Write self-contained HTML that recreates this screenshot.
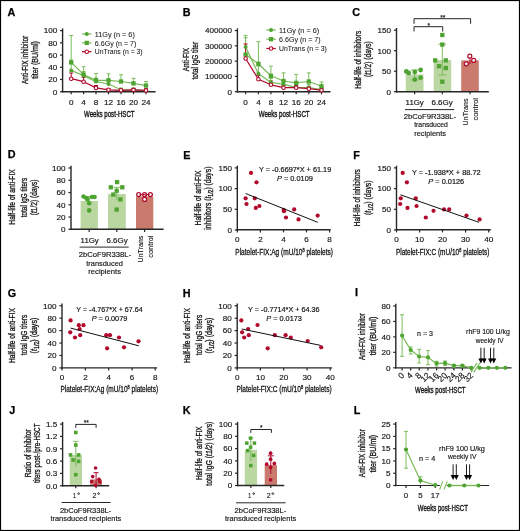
<!DOCTYPE html>
<html><head><meta charset="utf-8"><style>
html,body{margin:0;padding:0;background:#fff;}
svg{display:block;font-family:"Liberation Sans", sans-serif;will-change:transform;}
</style></head><body>
<svg width="520" height="531" viewBox="0 0 520 531">
<rect x="0.5" y="0.5" width="519" height="530" fill="#fff" stroke="#000" stroke-width="1.2"/>
<text x="7.6" y="16.4" font-size="10.8" text-anchor="start" font-weight="bold" fill="#000" stroke="#000" stroke-width="0.25">A</text>
<line x1="62.6" y1="28.4" x2="62.6" y2="92.4" stroke="#262626" stroke-width="1.4"/>
<line x1="60" y1="91.7" x2="62.6" y2="91.7" stroke="#262626" stroke-width="1.2"/>
<text x="57.2" y="94.5" font-size="8.1" text-anchor="end" font-weight="normal" fill="#141414" stroke="#141414" stroke-width="0.16">0</text>
<line x1="60" y1="79.48" x2="62.6" y2="79.48" stroke="#262626" stroke-width="1.2"/>
<text x="57.2" y="82.28" font-size="8.1" text-anchor="end" font-weight="normal" fill="#141414" stroke="#141414" stroke-width="0.16">20</text>
<line x1="60" y1="67.26" x2="62.6" y2="67.26" stroke="#262626" stroke-width="1.2"/>
<text x="57.2" y="70.06" font-size="8.1" text-anchor="end" font-weight="normal" fill="#141414" stroke="#141414" stroke-width="0.16">40</text>
<line x1="60" y1="55.04" x2="62.6" y2="55.04" stroke="#262626" stroke-width="1.2"/>
<text x="57.2" y="57.84" font-size="8.1" text-anchor="end" font-weight="normal" fill="#141414" stroke="#141414" stroke-width="0.16">60</text>
<line x1="60" y1="42.82" x2="62.6" y2="42.82" stroke="#262626" stroke-width="1.2"/>
<text x="57.2" y="45.62" font-size="8.1" text-anchor="end" font-weight="normal" fill="#141414" stroke="#141414" stroke-width="0.16">80</text>
<line x1="60" y1="30.6" x2="62.6" y2="30.6" stroke="#262626" stroke-width="1.2"/>
<text x="57.2" y="33.4" font-size="8.1" text-anchor="end" font-weight="normal" fill="#141414" stroke="#141414" stroke-width="0.16">100</text>
<line x1="61.9" y1="91.7" x2="155.6" y2="91.7" stroke="#262626" stroke-width="1.4"/>
<line x1="71.2" y1="91.7" x2="71.2" y2="94.3" stroke="#262626" stroke-width="1.2"/>
<text x="71.2" y="104.6" font-size="8.1" text-anchor="middle" font-weight="normal" fill="#141414" stroke="#141414" stroke-width="0.16">0</text>
<line x1="83.6" y1="91.7" x2="83.6" y2="94.3" stroke="#262626" stroke-width="1.2"/>
<text x="83.6" y="104.6" font-size="8.1" text-anchor="middle" font-weight="normal" fill="#141414" stroke="#141414" stroke-width="0.16">4</text>
<line x1="96" y1="91.7" x2="96" y2="94.3" stroke="#262626" stroke-width="1.2"/>
<text x="96" y="104.6" font-size="8.1" text-anchor="middle" font-weight="normal" fill="#141414" stroke="#141414" stroke-width="0.16">8</text>
<line x1="108.5" y1="91.7" x2="108.5" y2="94.3" stroke="#262626" stroke-width="1.2"/>
<text x="108.5" y="104.6" font-size="8.1" text-anchor="middle" font-weight="normal" fill="#141414" stroke="#141414" stroke-width="0.16">12</text>
<line x1="121" y1="91.7" x2="121" y2="94.3" stroke="#262626" stroke-width="1.2"/>
<text x="121" y="104.6" font-size="8.1" text-anchor="middle" font-weight="normal" fill="#141414" stroke="#141414" stroke-width="0.16">16</text>
<line x1="133.5" y1="91.7" x2="133.5" y2="94.3" stroke="#262626" stroke-width="1.2"/>
<text x="133.5" y="104.6" font-size="8.1" text-anchor="middle" font-weight="normal" fill="#141414" stroke="#141414" stroke-width="0.16">20</text>
<line x1="146" y1="91.7" x2="146" y2="94.3" stroke="#262626" stroke-width="1.2"/>
<text x="146" y="104.6" font-size="8.1" text-anchor="middle" font-weight="normal" fill="#141414" stroke="#141414" stroke-width="0.16">24</text>
<text x="109.3" y="117.2" font-size="9.4" text-anchor="middle" font-weight="normal" fill="#141414" stroke="#141414" stroke-width="0.4" textLength="50.6" lengthAdjust="spacingAndGlyphs">Weeks post-HSCT</text>
<g transform="translate(27.9,59.95) rotate(-90)">
<text x="0" y="0" font-size="9.3" text-anchor="middle" font-weight="normal" fill="#141414" stroke="#141414" stroke-width="0.32" textLength="48.3" lengthAdjust="spacingAndGlyphs">Anti-FIX inhibitor</text>
</g>
<g transform="translate(38,59.95) rotate(-90)">
<text x="0" y="0" font-size="9.3" text-anchor="middle" font-weight="normal" fill="#141414" stroke="#141414" stroke-width="0.32" textLength="37.7" lengthAdjust="spacingAndGlyphs">titer (BU/ml)</text>
</g>
<line x1="71.2" y1="62.4" x2="71.2" y2="35.5" stroke="#7dbd5d" stroke-width="1"/>
<line x1="69.2" y1="35.5" x2="73.2" y2="35.5" stroke="#7dbd5d" stroke-width="1"/>
<line x1="83.6" y1="74.5" x2="83.6" y2="66.7" stroke="#7dbd5d" stroke-width="1"/>
<line x1="81.6" y1="66.7" x2="85.6" y2="66.7" stroke="#7dbd5d" stroke-width="1"/>
<line x1="96" y1="80.3" x2="96" y2="73.5" stroke="#7dbd5d" stroke-width="1"/>
<line x1="94" y1="73.5" x2="98" y2="73.5" stroke="#7dbd5d" stroke-width="1"/>
<line x1="108.5" y1="80.3" x2="108.5" y2="73.8" stroke="#7dbd5d" stroke-width="1"/>
<line x1="106.5" y1="73.8" x2="110.5" y2="73.8" stroke="#7dbd5d" stroke-width="1"/>
<line x1="121" y1="81.5" x2="121" y2="74.8" stroke="#7dbd5d" stroke-width="1"/>
<line x1="119" y1="74.8" x2="123" y2="74.8" stroke="#7dbd5d" stroke-width="1"/>
<line x1="133.5" y1="83.4" x2="133.5" y2="78.3" stroke="#7dbd5d" stroke-width="1"/>
<line x1="131.5" y1="78.3" x2="135.5" y2="78.3" stroke="#7dbd5d" stroke-width="1"/>
<line x1="146" y1="85.6" x2="146" y2="81.5" stroke="#7dbd5d" stroke-width="1"/>
<line x1="144" y1="81.5" x2="148" y2="81.5" stroke="#7dbd5d" stroke-width="1"/>
<line x1="71.2" y1="70.4" x2="71.2" y2="60" stroke="#7dbd5d" stroke-width="1"/>
<line x1="69.2" y1="60" x2="73.2" y2="60" stroke="#7dbd5d" stroke-width="1"/>
<line x1="83.6" y1="75.6" x2="83.6" y2="71.5" stroke="#7dbd5d" stroke-width="1"/>
<line x1="81.6" y1="71.5" x2="85.6" y2="71.5" stroke="#7dbd5d" stroke-width="1"/>
<line x1="96" y1="81.6" x2="96" y2="78" stroke="#7dbd5d" stroke-width="1"/>
<line x1="94" y1="78" x2="98" y2="78" stroke="#7dbd5d" stroke-width="1"/>
<line x1="108.5" y1="84" x2="108.5" y2="80.5" stroke="#7dbd5d" stroke-width="1"/>
<line x1="106.5" y1="80.5" x2="110.5" y2="80.5" stroke="#7dbd5d" stroke-width="1"/>
<line x1="121" y1="89.8" x2="121" y2="88" stroke="#7dbd5d" stroke-width="1"/>
<line x1="119" y1="88" x2="123" y2="88" stroke="#7dbd5d" stroke-width="1"/>
<line x1="133.5" y1="89.8" x2="133.5" y2="88" stroke="#7dbd5d" stroke-width="1"/>
<line x1="131.5" y1="88" x2="135.5" y2="88" stroke="#7dbd5d" stroke-width="1"/>
<line x1="146" y1="90.6" x2="146" y2="89" stroke="#7dbd5d" stroke-width="1"/>
<line x1="144" y1="89" x2="148" y2="89" stroke="#7dbd5d" stroke-width="1"/>
<line x1="71.2" y1="78.7" x2="71.2" y2="73" stroke="#b0072b" stroke-width="1"/>
<line x1="69.2" y1="73" x2="73.2" y2="73" stroke="#b0072b" stroke-width="1"/>
<line x1="83.6" y1="81.7" x2="83.6" y2="77.3" stroke="#b0072b" stroke-width="1"/>
<line x1="81.6" y1="77.3" x2="85.6" y2="77.3" stroke="#b0072b" stroke-width="1"/>
<line x1="96" y1="87.9" x2="96" y2="85.5" stroke="#b0072b" stroke-width="1"/>
<line x1="94" y1="85.5" x2="98" y2="85.5" stroke="#b0072b" stroke-width="1"/>
<line x1="108.5" y1="89.8" x2="108.5" y2="88.5" stroke="#b0072b" stroke-width="1"/>
<line x1="106.5" y1="88.5" x2="110.5" y2="88.5" stroke="#b0072b" stroke-width="1"/>
<line x1="121" y1="90.3" x2="121" y2="89" stroke="#b0072b" stroke-width="1"/>
<line x1="119" y1="89" x2="123" y2="89" stroke="#b0072b" stroke-width="1"/>
<line x1="133.5" y1="89.9" x2="133.5" y2="88.5" stroke="#b0072b" stroke-width="1"/>
<line x1="131.5" y1="88.5" x2="135.5" y2="88.5" stroke="#b0072b" stroke-width="1"/>
<line x1="146" y1="90.4" x2="146" y2="89" stroke="#b0072b" stroke-width="1"/>
<line x1="144" y1="89" x2="148" y2="89" stroke="#b0072b" stroke-width="1"/>
<polyline points="71.2,62.4 83.6,74.5 96,80.3 108.5,80.3 121,81.5 133.5,83.4 146,85.6" fill="none" stroke="#78bb57" stroke-width="1.2" stroke-linejoin="round"/>
<polyline points="71.2,70.4 83.6,75.6 96,81.6 108.5,84 121,89.8 133.5,89.8 146,90.6" fill="none" stroke="#78bb57" stroke-width="1.2" stroke-linejoin="round"/>
<polyline points="71.2,78.7 83.6,81.7 96,87.9 108.5,89.8 121,90.3 133.5,89.9 146,90.4" fill="none" stroke="#b0072b" stroke-width="1.2" stroke-linejoin="round"/>
<rect x="69.05" y="60.25" width="4.3" height="4.3" fill="#4fa331"/>
<rect x="81.45" y="72.35" width="4.3" height="4.3" fill="#4fa331"/>
<rect x="93.85" y="78.15" width="4.3" height="4.3" fill="#4fa331"/>
<rect x="106.35" y="78.15" width="4.3" height="4.3" fill="#4fa331"/>
<rect x="118.85" y="79.35" width="4.3" height="4.3" fill="#4fa331"/>
<rect x="131.35" y="81.25" width="4.3" height="4.3" fill="#4fa331"/>
<rect x="143.85" y="83.45" width="4.3" height="4.3" fill="#4fa331"/>
<circle cx="71.2" cy="70.4" r="2" fill="#4fa331" stroke="none" stroke-width="0"/>
<circle cx="83.6" cy="75.6" r="2" fill="#4fa331" stroke="none" stroke-width="0"/>
<circle cx="96" cy="81.6" r="2" fill="#4fa331" stroke="none" stroke-width="0"/>
<circle cx="108.5" cy="84" r="2" fill="#4fa331" stroke="none" stroke-width="0"/>
<circle cx="121" cy="89.8" r="2" fill="#4fa331" stroke="none" stroke-width="0"/>
<circle cx="133.5" cy="89.8" r="2" fill="#4fa331" stroke="none" stroke-width="0"/>
<circle cx="146" cy="90.6" r="2" fill="#4fa331" stroke="none" stroke-width="0"/>
<circle cx="71.2" cy="78.7" r="1.75" fill="#fff" stroke="#b0072b" stroke-width="1.1"/>
<circle cx="83.6" cy="81.7" r="1.75" fill="#fff" stroke="#b0072b" stroke-width="1.1"/>
<circle cx="96" cy="87.9" r="1.75" fill="#fff" stroke="#b0072b" stroke-width="1.1"/>
<circle cx="108.5" cy="89.8" r="1.75" fill="#fff" stroke="#b0072b" stroke-width="1.1"/>
<circle cx="121" cy="90.3" r="1.75" fill="#fff" stroke="#b0072b" stroke-width="1.1"/>
<circle cx="133.5" cy="89.9" r="1.75" fill="#fff" stroke="#b0072b" stroke-width="1.1"/>
<circle cx="146" cy="90.4" r="1.75" fill="#fff" stroke="#b0072b" stroke-width="1.1"/>
<line x1="82" y1="34" x2="91.5" y2="34" stroke="#78bb57" stroke-width="1.2"/>
<circle cx="86.75" cy="34" r="2" fill="#4fa331" stroke="none" stroke-width="0"/>
<text x="94.8" y="36.6" font-size="7.6" text-anchor="start" font-weight="normal" fill="#141414" stroke="#141414" stroke-width="0.05" textLength="40" lengthAdjust="spacingAndGlyphs">11Gy (n = 6)</text>
<line x1="82" y1="42.9" x2="91.5" y2="42.9" stroke="#78bb57" stroke-width="1.2"/>
<rect x="84.6" y="40.75" width="4.3" height="4.3" fill="#4fa331"/>
<text x="94.8" y="45.5" font-size="7.6" text-anchor="start" font-weight="normal" fill="#141414" stroke="#141414" stroke-width="0.05" textLength="41.5" lengthAdjust="spacingAndGlyphs">6.6Gy (n = 7)</text>
<line x1="82" y1="51.7" x2="91.5" y2="51.7" stroke="#b0072b" stroke-width="1.2"/>
<circle cx="86.75" cy="51.7" r="1.75" fill="#fff" stroke="#b0072b" stroke-width="1.1"/>
<text x="94.8" y="54.3" font-size="7.6" text-anchor="start" font-weight="normal" fill="#141414" stroke="#141414" stroke-width="0.05" textLength="47.8" lengthAdjust="spacingAndGlyphs">UnTrans (n = 3)</text>
<text x="182.8" y="16.4" font-size="10.8" text-anchor="start" font-weight="bold" fill="#000" stroke="#000" stroke-width="0.25">B</text>
<line x1="237.4" y1="28.4" x2="237.4" y2="92.4" stroke="#262626" stroke-width="1.4"/>
<line x1="234.8" y1="91.7" x2="237.4" y2="91.7" stroke="#262626" stroke-width="1.2"/>
<text x="232" y="94.5" font-size="8.1" text-anchor="end" font-weight="normal" fill="#141414" stroke="#141414" stroke-width="0.16">0</text>
<line x1="234.8" y1="76.42" x2="237.4" y2="76.42" stroke="#262626" stroke-width="1.2"/>
<text x="232" y="79.22" font-size="8.1" text-anchor="end" font-weight="normal" fill="#141414" stroke="#141414" stroke-width="0.16">100000</text>
<line x1="234.8" y1="61.14" x2="237.4" y2="61.14" stroke="#262626" stroke-width="1.2"/>
<text x="232" y="63.94" font-size="8.1" text-anchor="end" font-weight="normal" fill="#141414" stroke="#141414" stroke-width="0.16">200000</text>
<line x1="234.8" y1="45.86" x2="237.4" y2="45.86" stroke="#262626" stroke-width="1.2"/>
<text x="232" y="48.66" font-size="8.1" text-anchor="end" font-weight="normal" fill="#141414" stroke="#141414" stroke-width="0.16">300000</text>
<line x1="234.8" y1="30.58" x2="237.4" y2="30.58" stroke="#262626" stroke-width="1.2"/>
<text x="232" y="33.38" font-size="8.1" text-anchor="end" font-weight="normal" fill="#141414" stroke="#141414" stroke-width="0.16">400000</text>
<line x1="236.7" y1="91.7" x2="330.5" y2="91.7" stroke="#262626" stroke-width="1.4"/>
<line x1="245.6" y1="91.7" x2="245.6" y2="94.3" stroke="#262626" stroke-width="1.2"/>
<text x="245.6" y="104.8" font-size="8.1" text-anchor="middle" font-weight="normal" fill="#141414" stroke="#141414" stroke-width="0.16">0</text>
<line x1="258.4" y1="91.7" x2="258.4" y2="94.3" stroke="#262626" stroke-width="1.2"/>
<text x="258.4" y="104.8" font-size="8.1" text-anchor="middle" font-weight="normal" fill="#141414" stroke="#141414" stroke-width="0.16">4</text>
<line x1="270.9" y1="91.7" x2="270.9" y2="94.3" stroke="#262626" stroke-width="1.2"/>
<text x="270.9" y="104.8" font-size="8.1" text-anchor="middle" font-weight="normal" fill="#141414" stroke="#141414" stroke-width="0.16">8</text>
<line x1="283.5" y1="91.7" x2="283.5" y2="94.3" stroke="#262626" stroke-width="1.2"/>
<text x="283.5" y="104.8" font-size="8.1" text-anchor="middle" font-weight="normal" fill="#141414" stroke="#141414" stroke-width="0.16">12</text>
<line x1="296.2" y1="91.7" x2="296.2" y2="94.3" stroke="#262626" stroke-width="1.2"/>
<text x="296.2" y="104.8" font-size="8.1" text-anchor="middle" font-weight="normal" fill="#141414" stroke="#141414" stroke-width="0.16">16</text>
<line x1="308.8" y1="91.7" x2="308.8" y2="94.3" stroke="#262626" stroke-width="1.2"/>
<text x="308.8" y="104.8" font-size="8.1" text-anchor="middle" font-weight="normal" fill="#141414" stroke="#141414" stroke-width="0.16">20</text>
<line x1="321.5" y1="91.7" x2="321.5" y2="94.3" stroke="#262626" stroke-width="1.2"/>
<text x="321.5" y="104.8" font-size="8.1" text-anchor="middle" font-weight="normal" fill="#141414" stroke="#141414" stroke-width="0.16">24</text>
<text x="284.15" y="117.2" font-size="9.4" text-anchor="middle" font-weight="normal" fill="#141414" stroke="#141414" stroke-width="0.4" textLength="50.9" lengthAdjust="spacingAndGlyphs">Weeks post-HSCT</text>
<g transform="translate(188.8,59.6) rotate(-90)">
<text x="0" y="0" font-size="9.3" text-anchor="middle" font-weight="normal" fill="#141414" stroke="#141414" stroke-width="0.32" textLength="23.4" lengthAdjust="spacingAndGlyphs">Anti-FIX</text>
</g>
<g transform="translate(198.4,60.75) rotate(-90)">
<text x="0" y="0" font-size="9.3" text-anchor="middle" font-weight="normal" fill="#141414" stroke="#141414" stroke-width="0.32" textLength="37.7" lengthAdjust="spacingAndGlyphs">total IgG titer</text>
</g>
<line x1="245.6" y1="54.6" x2="245.6" y2="35.4" stroke="#7dbd5d" stroke-width="1"/>
<line x1="243.6" y1="35.4" x2="247.6" y2="35.4" stroke="#7dbd5d" stroke-width="1"/>
<line x1="258.4" y1="63.8" x2="258.4" y2="41.7" stroke="#7dbd5d" stroke-width="1"/>
<line x1="256.4" y1="41.7" x2="260.4" y2="41.7" stroke="#7dbd5d" stroke-width="1"/>
<line x1="270.9" y1="75.8" x2="270.9" y2="66.2" stroke="#7dbd5d" stroke-width="1"/>
<line x1="268.9" y1="66.2" x2="272.9" y2="66.2" stroke="#7dbd5d" stroke-width="1"/>
<line x1="283.5" y1="81" x2="283.5" y2="72.9" stroke="#7dbd5d" stroke-width="1"/>
<line x1="281.5" y1="72.9" x2="285.5" y2="72.9" stroke="#7dbd5d" stroke-width="1"/>
<line x1="296.2" y1="82.9" x2="296.2" y2="74.4" stroke="#7dbd5d" stroke-width="1"/>
<line x1="294.2" y1="74.4" x2="298.2" y2="74.4" stroke="#7dbd5d" stroke-width="1"/>
<line x1="308.8" y1="81.5" x2="308.8" y2="72.9" stroke="#7dbd5d" stroke-width="1"/>
<line x1="306.8" y1="72.9" x2="310.8" y2="72.9" stroke="#7dbd5d" stroke-width="1"/>
<line x1="321.5" y1="86.3" x2="321.5" y2="82" stroke="#7dbd5d" stroke-width="1"/>
<line x1="319.5" y1="82" x2="323.5" y2="82" stroke="#7dbd5d" stroke-width="1"/>
<line x1="245.6" y1="47" x2="245.6" y2="37.7" stroke="#7dbd5d" stroke-width="1"/>
<line x1="243.6" y1="37.7" x2="247.6" y2="37.7" stroke="#7dbd5d" stroke-width="1"/>
<line x1="258.4" y1="73.8" x2="258.4" y2="66" stroke="#7dbd5d" stroke-width="1"/>
<line x1="256.4" y1="66" x2="260.4" y2="66" stroke="#7dbd5d" stroke-width="1"/>
<line x1="270.9" y1="82.3" x2="270.9" y2="78.5" stroke="#7dbd5d" stroke-width="1"/>
<line x1="268.9" y1="78.5" x2="272.9" y2="78.5" stroke="#7dbd5d" stroke-width="1"/>
<line x1="283.5" y1="84.3" x2="283.5" y2="80.5" stroke="#7dbd5d" stroke-width="1"/>
<line x1="281.5" y1="80.5" x2="285.5" y2="80.5" stroke="#7dbd5d" stroke-width="1"/>
<line x1="296.2" y1="87.3" x2="296.2" y2="84" stroke="#7dbd5d" stroke-width="1"/>
<line x1="294.2" y1="84" x2="298.2" y2="84" stroke="#7dbd5d" stroke-width="1"/>
<line x1="308.8" y1="87.5" x2="308.8" y2="84.5" stroke="#7dbd5d" stroke-width="1"/>
<line x1="306.8" y1="84.5" x2="310.8" y2="84.5" stroke="#7dbd5d" stroke-width="1"/>
<line x1="321.5" y1="89.5" x2="321.5" y2="87.5" stroke="#7dbd5d" stroke-width="1"/>
<line x1="319.5" y1="87.5" x2="323.5" y2="87.5" stroke="#7dbd5d" stroke-width="1"/>
<line x1="245.6" y1="58.5" x2="245.6" y2="44" stroke="#b0072b" stroke-width="1"/>
<line x1="243.6" y1="44" x2="247.6" y2="44" stroke="#b0072b" stroke-width="1"/>
<line x1="258.4" y1="79.2" x2="258.4" y2="75.5" stroke="#b0072b" stroke-width="1"/>
<line x1="256.4" y1="75.5" x2="260.4" y2="75.5" stroke="#b0072b" stroke-width="1"/>
<line x1="270.9" y1="84.8" x2="270.9" y2="81" stroke="#b0072b" stroke-width="1"/>
<line x1="268.9" y1="81" x2="272.9" y2="81" stroke="#b0072b" stroke-width="1"/>
<line x1="283.5" y1="87.7" x2="283.5" y2="85.5" stroke="#b0072b" stroke-width="1"/>
<line x1="281.5" y1="85.5" x2="285.5" y2="85.5" stroke="#b0072b" stroke-width="1"/>
<line x1="296.2" y1="87.7" x2="296.2" y2="85.5" stroke="#b0072b" stroke-width="1"/>
<line x1="294.2" y1="85.5" x2="298.2" y2="85.5" stroke="#b0072b" stroke-width="1"/>
<line x1="308.8" y1="88.7" x2="308.8" y2="86.5" stroke="#b0072b" stroke-width="1"/>
<line x1="306.8" y1="86.5" x2="310.8" y2="86.5" stroke="#b0072b" stroke-width="1"/>
<line x1="321.5" y1="90.2" x2="321.5" y2="88.5" stroke="#b0072b" stroke-width="1"/>
<line x1="319.5" y1="88.5" x2="323.5" y2="88.5" stroke="#b0072b" stroke-width="1"/>
<polyline points="245.6,54.6 258.4,63.8 270.9,75.8 283.5,81 296.2,82.9 308.8,81.5 321.5,86.3" fill="none" stroke="#78bb57" stroke-width="1.2" stroke-linejoin="round"/>
<polyline points="245.6,47 258.4,73.8 270.9,82.3 283.5,84.3 296.2,87.3 308.8,87.5 321.5,89.5" fill="none" stroke="#78bb57" stroke-width="1.2" stroke-linejoin="round"/>
<polyline points="245.6,58.5 258.4,79.2 270.9,84.8 283.5,87.7 296.2,87.7 308.8,88.7 321.5,90.2" fill="none" stroke="#b0072b" stroke-width="1.2" stroke-linejoin="round"/>
<rect x="243.45" y="52.45" width="4.3" height="4.3" fill="#4fa331"/>
<rect x="256.25" y="61.65" width="4.3" height="4.3" fill="#4fa331"/>
<rect x="268.75" y="73.65" width="4.3" height="4.3" fill="#4fa331"/>
<rect x="281.35" y="78.85" width="4.3" height="4.3" fill="#4fa331"/>
<rect x="294.05" y="80.75" width="4.3" height="4.3" fill="#4fa331"/>
<rect x="306.65" y="79.35" width="4.3" height="4.3" fill="#4fa331"/>
<rect x="319.35" y="84.15" width="4.3" height="4.3" fill="#4fa331"/>
<circle cx="245.6" cy="47" r="2" fill="#4fa331" stroke="none" stroke-width="0"/>
<circle cx="258.4" cy="73.8" r="2" fill="#4fa331" stroke="none" stroke-width="0"/>
<circle cx="270.9" cy="82.3" r="2" fill="#4fa331" stroke="none" stroke-width="0"/>
<circle cx="283.5" cy="84.3" r="2" fill="#4fa331" stroke="none" stroke-width="0"/>
<circle cx="296.2" cy="87.3" r="2" fill="#4fa331" stroke="none" stroke-width="0"/>
<circle cx="308.8" cy="87.5" r="2" fill="#4fa331" stroke="none" stroke-width="0"/>
<circle cx="321.5" cy="89.5" r="2" fill="#4fa331" stroke="none" stroke-width="0"/>
<circle cx="245.6" cy="58.5" r="1.75" fill="#fff" stroke="#b0072b" stroke-width="1.1"/>
<circle cx="258.4" cy="79.2" r="1.75" fill="#fff" stroke="#b0072b" stroke-width="1.1"/>
<circle cx="270.9" cy="84.8" r="1.75" fill="#fff" stroke="#b0072b" stroke-width="1.1"/>
<circle cx="283.5" cy="87.7" r="1.75" fill="#fff" stroke="#b0072b" stroke-width="1.1"/>
<circle cx="296.2" cy="87.7" r="1.75" fill="#fff" stroke="#b0072b" stroke-width="1.1"/>
<circle cx="308.8" cy="88.7" r="1.75" fill="#fff" stroke="#b0072b" stroke-width="1.1"/>
<circle cx="321.5" cy="90.2" r="1.75" fill="#fff" stroke="#b0072b" stroke-width="1.1"/>
<line x1="266.3" y1="30" x2="275.8" y2="30" stroke="#78bb57" stroke-width="1.2"/>
<circle cx="271.05" cy="30" r="2" fill="#4fa331" stroke="none" stroke-width="0"/>
<text x="279.1" y="32.6" font-size="7.6" text-anchor="start" font-weight="normal" fill="#141414" stroke="#141414" stroke-width="0.05" textLength="40" lengthAdjust="spacingAndGlyphs">11Gy (n = 6)</text>
<line x1="266.3" y1="39.2" x2="275.8" y2="39.2" stroke="#78bb57" stroke-width="1.2"/>
<rect x="268.9" y="37.05" width="4.3" height="4.3" fill="#4fa331"/>
<text x="279.1" y="41.8" font-size="7.6" text-anchor="start" font-weight="normal" fill="#141414" stroke="#141414" stroke-width="0.05" textLength="41.5" lengthAdjust="spacingAndGlyphs">6.6Gy (n = 7)</text>
<line x1="266.3" y1="48.5" x2="275.8" y2="48.5" stroke="#b0072b" stroke-width="1.2"/>
<circle cx="271.05" cy="48.5" r="1.75" fill="#fff" stroke="#b0072b" stroke-width="1.1"/>
<text x="279.1" y="51.1" font-size="7.6" text-anchor="start" font-weight="normal" fill="#141414" stroke="#141414" stroke-width="0.05" textLength="47.8" lengthAdjust="spacingAndGlyphs">UnTrans (n = 3)</text>
<text x="352.2" y="16.4" font-size="10.8" text-anchor="start" font-weight="bold" fill="#000" stroke="#000" stroke-width="0.25">C</text>
<line x1="396.5" y1="28" x2="396.5" y2="92.4" stroke="#262626" stroke-width="1.4"/>
<line x1="393.9" y1="91.7" x2="396.5" y2="91.7" stroke="#262626" stroke-width="1.2"/>
<text x="391.1" y="94.5" font-size="8.1" text-anchor="end" font-weight="normal" fill="#141414" stroke="#141414" stroke-width="0.16">0</text>
<line x1="393.9" y1="71.2" x2="396.5" y2="71.2" stroke="#262626" stroke-width="1.2"/>
<text x="391.1" y="74" font-size="8.1" text-anchor="end" font-weight="normal" fill="#141414" stroke="#141414" stroke-width="0.16">50</text>
<line x1="393.9" y1="50.7" x2="396.5" y2="50.7" stroke="#262626" stroke-width="1.2"/>
<text x="391.1" y="53.5" font-size="8.1" text-anchor="end" font-weight="normal" fill="#141414" stroke="#141414" stroke-width="0.16">100</text>
<line x1="393.9" y1="30.2" x2="396.5" y2="30.2" stroke="#262626" stroke-width="1.2"/>
<text x="391.1" y="33" font-size="8.1" text-anchor="end" font-weight="normal" fill="#141414" stroke="#141414" stroke-width="0.16">150</text>
<rect x="405.8" y="74.4" width="17.7" height="17.3" fill="#bad7a1"/>
<rect x="433.7" y="60" width="17.5" height="31.7" fill="#bad7a1"/>
<rect x="461.2" y="60.4" width="17.6" height="31.3" fill="#c97a6d"/>
<line x1="395.8" y1="91.7" x2="488.8" y2="91.7" stroke="#262626" stroke-width="1.4"/>
<line x1="414.6" y1="91.7" x2="414.6" y2="94.3" stroke="#262626" stroke-width="1.2"/>
<line x1="442.3" y1="91.7" x2="442.3" y2="94.3" stroke="#262626" stroke-width="1.2"/>
<line x1="470" y1="91.7" x2="470" y2="94.3" stroke="#262626" stroke-width="1.2"/>
<line x1="414.6" y1="70" x2="414.6" y2="80" stroke="#7dbd5d" stroke-width="1"/>
<line x1="410.8" y1="70" x2="418.4" y2="70" stroke="#7dbd5d" stroke-width="1"/>
<line x1="410.8" y1="80" x2="418.4" y2="80" stroke="#7dbd5d" stroke-width="1"/>
<line x1="442.3" y1="44.2" x2="442.3" y2="75" stroke="#7dbd5d" stroke-width="1"/>
<line x1="438.4" y1="44.2" x2="446.2" y2="44.2" stroke="#7dbd5d" stroke-width="1"/>
<line x1="438.4" y1="75" x2="446.2" y2="75" stroke="#7dbd5d" stroke-width="1"/>
<line x1="470" y1="56" x2="470" y2="64" stroke="#b0072b" stroke-width="1"/>
<line x1="468" y1="56" x2="472" y2="56" stroke="#b0072b" stroke-width="1"/>
<circle cx="406.3" cy="71.5" r="2.4" fill="#4fa331" stroke="none" stroke-width="0"/>
<circle cx="408.7" cy="73" r="2.4" fill="#4fa331" stroke="none" stroke-width="0"/>
<circle cx="414.8" cy="72" r="2.4" fill="#4fa331" stroke="none" stroke-width="0"/>
<circle cx="420.6" cy="70" r="2.4" fill="#4fa331" stroke="none" stroke-width="0"/>
<circle cx="420.6" cy="77.7" r="2.4" fill="#4fa331" stroke="none" stroke-width="0"/>
<circle cx="414.8" cy="79.6" r="2.4" fill="#4fa331" stroke="none" stroke-width="0"/>
<rect x="440.15" y="32.85" width="4.3" height="4.3" fill="#4fa331"/>
<rect x="440.15" y="42.45" width="4.3" height="4.3" fill="#4fa331"/>
<rect x="433.05" y="58.25" width="4.3" height="4.3" fill="#4fa331"/>
<rect x="443.65" y="58.25" width="4.3" height="4.3" fill="#4fa331"/>
<rect x="436.85" y="64.05" width="4.3" height="4.3" fill="#4fa331"/>
<rect x="443.65" y="65.85" width="4.3" height="4.3" fill="#4fa331"/>
<rect x="440.15" y="79.55" width="4.3" height="4.3" fill="#4fa331"/>
<circle cx="469.8" cy="56.2" r="2" fill="#fff" stroke="#b0072b" stroke-width="1.2"/>
<circle cx="473.7" cy="60.4" r="2" fill="#fff" stroke="#b0072b" stroke-width="1.2"/>
<circle cx="466.3" cy="63.8" r="2" fill="#fff" stroke="#b0072b" stroke-width="1.2"/>
<polyline points="414,23.8 414,18.7 470.6,18.7 470.6,23.8" fill="none" stroke="#262626" stroke-width="1" stroke-linejoin="round"/>
<polyline points="414,31.5 414,26.7 442.7,26.7 442.7,31.5" fill="none" stroke="#262626" stroke-width="1" stroke-linejoin="round"/>
<text x="442.7" y="20.3" font-size="6.5" text-anchor="middle" font-weight="normal" fill="#141414" stroke="#141414" stroke-width="0.16">**</text>
<text x="428.8" y="28.3" font-size="6.5" text-anchor="middle" font-weight="normal" fill="#141414" stroke="#141414" stroke-width="0.16">*</text>
<g transform="translate(360.8,59.8) rotate(-90)">
<text x="0" y="0" font-size="9.3" text-anchor="middle" font-weight="normal" fill="#141414" stroke="#141414" stroke-width="0.32" textLength="58" lengthAdjust="spacingAndGlyphs">Half-life of inhibitors</text>
</g>
<g transform="translate(371.4,59.15) rotate(-90)">
<text x="0" y="0" font-size="9.3" text-anchor="middle" font-weight="normal" fill="#141414" stroke="#141414" stroke-width="0.32" textLength="35.7" lengthAdjust="spacingAndGlyphs">(<tspan font-style="italic">t</tspan>1/2) (days)</text>
</g>
<text x="414.7" y="104.8" font-size="7.8" text-anchor="middle" font-weight="normal" fill="#141414" stroke="#141414" stroke-width="0.16" textLength="18.2" lengthAdjust="spacingAndGlyphs">11Gy</text>
<text x="442.1" y="104.8" font-size="7.8" text-anchor="middle" font-weight="normal" fill="#141414" stroke="#141414" stroke-width="0.16" textLength="21.2" lengthAdjust="spacingAndGlyphs">6.6Gy</text>
<line x1="405" y1="109.6" x2="454.2" y2="109.6" stroke="#262626" stroke-width="1"/>
<text x="429.95" y="118.7" font-size="7.8" text-anchor="middle" font-weight="normal" fill="#141414" stroke="#141414" stroke-width="0.16" textLength="52.5" lengthAdjust="spacingAndGlyphs">2bCoF9R338L-</text>
<text x="431.05" y="127.4" font-size="7.8" text-anchor="middle" font-weight="normal" fill="#141414" stroke="#141414" stroke-width="0.16" textLength="33.7" lengthAdjust="spacingAndGlyphs">transduced</text>
<text x="430.1" y="135.8" font-size="7.8" text-anchor="middle" font-weight="normal" fill="#141414" stroke="#141414" stroke-width="0.16" textLength="31.8" lengthAdjust="spacingAndGlyphs">recipients</text>
<g transform="translate(468.4,111.95) rotate(-90)">
<text x="0" y="0" font-size="7.8" text-anchor="middle" font-weight="normal" fill="#141414" stroke="#141414" stroke-width="0.12" textLength="26.9" lengthAdjust="spacingAndGlyphs">UnTrans</text>
</g>
<g transform="translate(478.1,109.3) rotate(-90)">
<text x="0" y="0" font-size="7.8" text-anchor="middle" font-weight="normal" fill="#141414" stroke="#141414" stroke-width="0.12" textLength="22.6" lengthAdjust="spacingAndGlyphs">control</text>
</g>
<text x="7.8" y="158.4" font-size="10.8" text-anchor="start" font-weight="bold" fill="#000" stroke="#000" stroke-width="0.25">D</text>
<line x1="71" y1="165.8" x2="71" y2="230" stroke="#262626" stroke-width="1.4"/>
<line x1="68.4" y1="229.3" x2="71" y2="229.3" stroke="#262626" stroke-width="1.2"/>
<text x="65.6" y="232.1" font-size="8.1" text-anchor="end" font-weight="normal" fill="#141414" stroke="#141414" stroke-width="0.16">0</text>
<line x1="68.4" y1="217.04" x2="71" y2="217.04" stroke="#262626" stroke-width="1.2"/>
<text x="65.6" y="219.84" font-size="8.1" text-anchor="end" font-weight="normal" fill="#141414" stroke="#141414" stroke-width="0.16">20</text>
<line x1="68.4" y1="204.78" x2="71" y2="204.78" stroke="#262626" stroke-width="1.2"/>
<text x="65.6" y="207.58" font-size="8.1" text-anchor="end" font-weight="normal" fill="#141414" stroke="#141414" stroke-width="0.16">40</text>
<line x1="68.4" y1="192.52" x2="71" y2="192.52" stroke="#262626" stroke-width="1.2"/>
<text x="65.6" y="195.32" font-size="8.1" text-anchor="end" font-weight="normal" fill="#141414" stroke="#141414" stroke-width="0.16">60</text>
<line x1="68.4" y1="180.26" x2="71" y2="180.26" stroke="#262626" stroke-width="1.2"/>
<text x="65.6" y="183.06" font-size="8.1" text-anchor="end" font-weight="normal" fill="#141414" stroke="#141414" stroke-width="0.16">80</text>
<line x1="68.4" y1="168" x2="71" y2="168" stroke="#262626" stroke-width="1.2"/>
<text x="65.6" y="170.8" font-size="8.1" text-anchor="end" font-weight="normal" fill="#141414" stroke="#141414" stroke-width="0.16">100</text>
<rect x="80.6" y="201" width="17.3" height="28.3" fill="#bad7a1"/>
<rect x="108" y="194" width="17.8" height="35.3" fill="#bad7a1"/>
<rect x="136" y="196.5" width="17.3" height="32.8" fill="#c97a6d"/>
<line x1="70.3" y1="229.3" x2="163.6" y2="229.3" stroke="#262626" stroke-width="1.4"/>
<line x1="89.2" y1="229.3" x2="89.2" y2="231.9" stroke="#262626" stroke-width="1.2"/>
<line x1="116.8" y1="229.3" x2="116.8" y2="231.9" stroke="#262626" stroke-width="1.2"/>
<line x1="144.6" y1="229.3" x2="144.6" y2="231.9" stroke="#262626" stroke-width="1.2"/>
<line x1="116.8" y1="187.3" x2="116.8" y2="200" stroke="#7dbd5d" stroke-width="1"/>
<line x1="113.4" y1="187.3" x2="120.2" y2="187.3" stroke="#7dbd5d" stroke-width="1"/>
<line x1="89.2" y1="196.5" x2="89.2" y2="205" stroke="#7dbd5d" stroke-width="1"/>
<line x1="86.2" y1="196.5" x2="92.2" y2="196.5" stroke="#7dbd5d" stroke-width="1"/>
<circle cx="83.5" cy="196.5" r="2.3" fill="#4fa331" stroke="none" stroke-width="0"/>
<circle cx="86.3" cy="198" r="2.3" fill="#4fa331" stroke="none" stroke-width="0"/>
<circle cx="89.2" cy="203.3" r="2.3" fill="#4fa331" stroke="none" stroke-width="0"/>
<circle cx="89.2" cy="210.4" r="2.3" fill="#4fa331" stroke="none" stroke-width="0"/>
<circle cx="92" cy="197" r="2.3" fill="#4fa331" stroke="none" stroke-width="0"/>
<circle cx="94.6" cy="197" r="2.3" fill="#4fa331" stroke="none" stroke-width="0"/>
<circle cx="87.3" cy="199.4" r="2.3" fill="#4fa331" stroke="none" stroke-width="0"/>
<rect x="114.95" y="179.95" width="4.3" height="4.3" fill="#4fa331"/>
<rect x="108.65" y="185.15" width="4.3" height="4.3" fill="#4fa331"/>
<rect x="120.15" y="185.15" width="4.3" height="4.3" fill="#4fa331"/>
<rect x="114.55" y="188.65" width="4.3" height="4.3" fill="#4fa331"/>
<rect x="111.15" y="192.45" width="4.3" height="4.3" fill="#4fa331"/>
<rect x="118.25" y="197.25" width="4.3" height="4.3" fill="#4fa331"/>
<rect x="114.55" y="207.45" width="4.3" height="4.3" fill="#4fa331"/>
<circle cx="138.7" cy="194.6" r="2" fill="#fff" stroke="#b0072b" stroke-width="1.2"/>
<circle cx="144.6" cy="194.6" r="2" fill="#fff" stroke="#b0072b" stroke-width="1.2"/>
<circle cx="150.4" cy="194.6" r="2" fill="#fff" stroke="#b0072b" stroke-width="1.2"/>
<circle cx="144.6" cy="199.4" r="2" fill="#fff" stroke="#b0072b" stroke-width="1.2"/>
<line x1="139.5" y1="194.6" x2="149.6" y2="194.6" stroke="#b0072b" stroke-width="0.9"/>
<g transform="translate(15.2,196.95) rotate(-90)">
<text x="0" y="0" font-size="9.3" text-anchor="middle" font-weight="normal" fill="#141414" stroke="#141414" stroke-width="0.32" textLength="55.5" lengthAdjust="spacingAndGlyphs">Half-life of anti-FIX</text>
</g>
<g transform="translate(26.5,197.45) rotate(-90)">
<text x="0" y="0" font-size="9.3" text-anchor="middle" font-weight="normal" fill="#141414" stroke="#141414" stroke-width="0.32" textLength="39.5" lengthAdjust="spacingAndGlyphs">total IgG titers</text>
</g>
<g transform="translate(36.9,197.4) rotate(-90)">
<text x="0" y="0" font-size="9.3" text-anchor="middle" font-weight="normal" fill="#141414" stroke="#141414" stroke-width="0.32" textLength="35.8" lengthAdjust="spacingAndGlyphs">(<tspan font-style="italic">t</tspan>1/2) (days)</text>
</g>
<text x="89.7" y="242.7" font-size="7.8" text-anchor="middle" font-weight="normal" fill="#141414" stroke="#141414" stroke-width="0.16" textLength="18.2" lengthAdjust="spacingAndGlyphs">11Gy</text>
<text x="117.1" y="242.7" font-size="7.8" text-anchor="middle" font-weight="normal" fill="#141414" stroke="#141414" stroke-width="0.16" textLength="21.2" lengthAdjust="spacingAndGlyphs">6.6Gy</text>
<line x1="79.6" y1="247.1" x2="128.7" y2="247.1" stroke="#262626" stroke-width="1"/>
<text x="104.95" y="256.7" font-size="7.8" text-anchor="middle" font-weight="normal" fill="#141414" stroke="#141414" stroke-width="0.16" textLength="52.5" lengthAdjust="spacingAndGlyphs">2bCoF9R338L-</text>
<text x="104.6" y="265.5" font-size="7.8" text-anchor="middle" font-weight="normal" fill="#141414" stroke="#141414" stroke-width="0.16" textLength="36.6" lengthAdjust="spacingAndGlyphs">transduced</text>
<text x="104.65" y="273.8" font-size="7.8" text-anchor="middle" font-weight="normal" fill="#141414" stroke="#141414" stroke-width="0.16" textLength="32.7" lengthAdjust="spacingAndGlyphs">recipients</text>
<g transform="translate(143,249.05) rotate(-90)">
<text x="0" y="0" font-size="7.8" text-anchor="middle" font-weight="normal" fill="#141414" stroke="#141414" stroke-width="0.12" textLength="26.9" lengthAdjust="spacingAndGlyphs">UnTrans</text>
</g>
<g transform="translate(153.2,246.65) rotate(-90)">
<text x="0" y="0" font-size="7.8" text-anchor="middle" font-weight="normal" fill="#141414" stroke="#141414" stroke-width="0.12" textLength="22.1" lengthAdjust="spacingAndGlyphs">control</text>
</g>
<text x="183.2" y="158.5" font-size="10.8" text-anchor="start" font-weight="bold" fill="#000" stroke="#000" stroke-width="0.25">E</text>
<line x1="237.3" y1="165.7" x2="237.3" y2="230.5" stroke="#262626" stroke-width="1.4"/>
<line x1="234.7" y1="230" x2="237.3" y2="230" stroke="#262626" stroke-width="1.2"/>
<text x="231.9" y="232.8" font-size="8.1" text-anchor="end" font-weight="normal" fill="#141414" stroke="#141414" stroke-width="0.16">0</text>
<line x1="234.7" y1="209.3" x2="237.3" y2="209.3" stroke="#262626" stroke-width="1.2"/>
<text x="231.9" y="212.1" font-size="8.1" text-anchor="end" font-weight="normal" fill="#141414" stroke="#141414" stroke-width="0.16">50</text>
<line x1="234.7" y1="188.6" x2="237.3" y2="188.6" stroke="#262626" stroke-width="1.2"/>
<text x="231.9" y="191.4" font-size="8.1" text-anchor="end" font-weight="normal" fill="#141414" stroke="#141414" stroke-width="0.16">100</text>
<line x1="234.7" y1="167.9" x2="237.3" y2="167.9" stroke="#262626" stroke-width="1.2"/>
<text x="231.9" y="170.7" font-size="8.1" text-anchor="end" font-weight="normal" fill="#141414" stroke="#141414" stroke-width="0.16">150</text>
<line x1="236.6" y1="229.8" x2="330.6" y2="229.8" stroke="#262626" stroke-width="1.4"/>
<line x1="237.3" y1="229.8" x2="237.3" y2="232.4" stroke="#262626" stroke-width="1.2"/>
<text x="237.3" y="242.2" font-size="8.1" text-anchor="middle" font-weight="normal" fill="#141414" stroke="#141414" stroke-width="0.16">0</text>
<line x1="260.4" y1="229.8" x2="260.4" y2="232.4" stroke="#262626" stroke-width="1.2"/>
<text x="260.4" y="242.2" font-size="8.1" text-anchor="middle" font-weight="normal" fill="#141414" stroke="#141414" stroke-width="0.16">2</text>
<line x1="283.5" y1="229.8" x2="283.5" y2="232.4" stroke="#262626" stroke-width="1.2"/>
<text x="283.5" y="242.2" font-size="8.1" text-anchor="middle" font-weight="normal" fill="#141414" stroke="#141414" stroke-width="0.16">4</text>
<line x1="306.5" y1="229.8" x2="306.5" y2="232.4" stroke="#262626" stroke-width="1.2"/>
<text x="306.5" y="242.2" font-size="8.1" text-anchor="middle" font-weight="normal" fill="#141414" stroke="#141414" stroke-width="0.16">6</text>
<line x1="329.6" y1="229.8" x2="329.6" y2="232.4" stroke="#262626" stroke-width="1.2"/>
<text x="329.6" y="242.2" font-size="8.1" text-anchor="middle" font-weight="normal" fill="#141414" stroke="#141414" stroke-width="0.16">8</text>
<circle cx="251" cy="172.9" r="2.1" fill="#b0072b" stroke="none" stroke-width="0"/>
<circle cx="256.5" cy="182.3" r="2.1" fill="#b0072b" stroke="none" stroke-width="0"/>
<circle cx="245.6" cy="198.3" r="2.1" fill="#b0072b" stroke="none" stroke-width="0"/>
<circle cx="254.8" cy="198.3" r="2.1" fill="#b0072b" stroke="none" stroke-width="0"/>
<circle cx="246.5" cy="204" r="2.1" fill="#b0072b" stroke="none" stroke-width="0"/>
<circle cx="255.8" cy="207.9" r="2.1" fill="#b0072b" stroke="none" stroke-width="0"/>
<circle cx="259.4" cy="206" r="2.1" fill="#b0072b" stroke="none" stroke-width="0"/>
<circle cx="283.7" cy="209.8" r="2.1" fill="#b0072b" stroke="none" stroke-width="0"/>
<circle cx="284" cy="211.2" r="2.1" fill="#b0072b" stroke="none" stroke-width="0"/>
<circle cx="294.2" cy="209.4" r="2.1" fill="#b0072b" stroke="none" stroke-width="0"/>
<circle cx="286" cy="217.5" r="2.1" fill="#b0072b" stroke="none" stroke-width="0"/>
<circle cx="298.5" cy="219.4" r="2.1" fill="#b0072b" stroke="none" stroke-width="0"/>
<circle cx="317.7" cy="215.6" r="2.1" fill="#b0072b" stroke="none" stroke-width="0"/>
<line x1="245.6" y1="193.5" x2="317.7" y2="222.3" stroke="#111" stroke-width="1"/>
<text x="295.1" y="171.7" font-size="8" text-anchor="middle" font-weight="normal" fill="#141414" stroke="#141414" stroke-width="0.2" textLength="72.2" lengthAdjust="spacingAndGlyphs">Y = -0.6697*X + 61.19</text>
<text x="294.9" y="181" font-size="8" text-anchor="middle" font-weight="normal" fill="#141414" stroke="#141414" stroke-width="0.2" textLength="36" lengthAdjust="spacingAndGlyphs"><tspan font-style="italic">P</tspan> = 0.0109</text>
<text x="284.15" y="254.6" font-size="9.2" text-anchor="middle" font-weight="normal" fill="#141414" stroke="#141414" stroke-width="0.3" textLength="97.7" lengthAdjust="spacingAndGlyphs">Platelet-FIX:Ag (mU/10<tspan font-size="5.5" dy="-3">8</tspan><tspan dy="3"> platelets)</tspan></text>
<g transform="translate(200.8,198) rotate(-90)">
<text x="0" y="0" font-size="9.3" text-anchor="middle" font-weight="normal" fill="#141414" stroke="#141414" stroke-width="0.32" textLength="54.8" lengthAdjust="spacingAndGlyphs">Half-life of anti-FIX</text>
</g>
<g transform="translate(211.2,198.2) rotate(-90)">
<text x="0" y="0" font-size="9.3" text-anchor="middle" font-weight="normal" fill="#141414" stroke="#141414" stroke-width="0.32" textLength="63.2" lengthAdjust="spacingAndGlyphs">inhibitors (<tspan font-style="italic">t</tspan><tspan font-size="7" dy="1.5">1/2</tspan><tspan dy="-1.5">) (days)</tspan></text>
</g>
<text x="353.2" y="158.7" font-size="10.8" text-anchor="start" font-weight="bold" fill="#000" stroke="#000" stroke-width="0.25">F</text>
<line x1="396.5" y1="165.7" x2="396.5" y2="230.5" stroke="#262626" stroke-width="1.4"/>
<line x1="393.9" y1="230" x2="396.5" y2="230" stroke="#262626" stroke-width="1.2"/>
<text x="391.1" y="232.8" font-size="8.1" text-anchor="end" font-weight="normal" fill="#141414" stroke="#141414" stroke-width="0.16">0</text>
<line x1="393.9" y1="209.3" x2="396.5" y2="209.3" stroke="#262626" stroke-width="1.2"/>
<text x="391.1" y="212.1" font-size="8.1" text-anchor="end" font-weight="normal" fill="#141414" stroke="#141414" stroke-width="0.16">50</text>
<line x1="393.9" y1="188.6" x2="396.5" y2="188.6" stroke="#262626" stroke-width="1.2"/>
<text x="391.1" y="191.4" font-size="8.1" text-anchor="end" font-weight="normal" fill="#141414" stroke="#141414" stroke-width="0.16">100</text>
<line x1="393.9" y1="167.9" x2="396.5" y2="167.9" stroke="#262626" stroke-width="1.2"/>
<text x="391.1" y="170.7" font-size="8.1" text-anchor="end" font-weight="normal" fill="#141414" stroke="#141414" stroke-width="0.16">150</text>
<line x1="395.8" y1="229.8" x2="490.8" y2="229.8" stroke="#262626" stroke-width="1.4"/>
<line x1="396.5" y1="229.8" x2="396.5" y2="232.4" stroke="#262626" stroke-width="1.2"/>
<text x="396.5" y="242.2" font-size="8.1" text-anchor="middle" font-weight="normal" fill="#141414" stroke="#141414" stroke-width="0.16">0</text>
<line x1="419.6" y1="229.8" x2="419.6" y2="232.4" stroke="#262626" stroke-width="1.2"/>
<text x="419.6" y="242.2" font-size="8.1" text-anchor="middle" font-weight="normal" fill="#141414" stroke="#141414" stroke-width="0.16">10</text>
<line x1="442.5" y1="229.8" x2="442.5" y2="232.4" stroke="#262626" stroke-width="1.2"/>
<text x="442.5" y="242.2" font-size="8.1" text-anchor="middle" font-weight="normal" fill="#141414" stroke="#141414" stroke-width="0.16">20</text>
<line x1="465.6" y1="229.8" x2="465.6" y2="232.4" stroke="#262626" stroke-width="1.2"/>
<text x="465.6" y="242.2" font-size="8.1" text-anchor="middle" font-weight="normal" fill="#141414" stroke="#141414" stroke-width="0.16">30</text>
<line x1="488.7" y1="229.8" x2="488.7" y2="232.4" stroke="#262626" stroke-width="1.2"/>
<text x="488.7" y="242.2" font-size="8.1" text-anchor="middle" font-weight="normal" fill="#141414" stroke="#141414" stroke-width="0.16">40</text>
<circle cx="402.7" cy="172.9" r="2.1" fill="#b0072b" stroke="none" stroke-width="0"/>
<circle cx="406.9" cy="182.3" r="2.1" fill="#b0072b" stroke="none" stroke-width="0"/>
<circle cx="400.8" cy="198.3" r="2.1" fill="#b0072b" stroke="none" stroke-width="0"/>
<circle cx="415.8" cy="198.3" r="2.1" fill="#b0072b" stroke="none" stroke-width="0"/>
<circle cx="400.2" cy="204" r="2.1" fill="#b0072b" stroke="none" stroke-width="0"/>
<circle cx="407.5" cy="207.9" r="2.1" fill="#b0072b" stroke="none" stroke-width="0"/>
<circle cx="416.5" cy="206" r="2.1" fill="#b0072b" stroke="none" stroke-width="0"/>
<circle cx="425.8" cy="217.5" r="2.1" fill="#b0072b" stroke="none" stroke-width="0"/>
<circle cx="433.5" cy="210.8" r="2.1" fill="#b0072b" stroke="none" stroke-width="0"/>
<circle cx="444" cy="209.4" r="2.1" fill="#b0072b" stroke="none" stroke-width="0"/>
<circle cx="449.2" cy="209.4" r="2.1" fill="#b0072b" stroke="none" stroke-width="0"/>
<circle cx="466.5" cy="215.6" r="2.1" fill="#b0072b" stroke="none" stroke-width="0"/>
<circle cx="479.6" cy="219.4" r="2.1" fill="#b0072b" stroke="none" stroke-width="0"/>
<line x1="400.4" y1="194.8" x2="479" y2="222.3" stroke="#111" stroke-width="1"/>
<text x="446.25" y="174.8" font-size="8" text-anchor="middle" font-weight="normal" fill="#141414" stroke="#141414" stroke-width="0.2" textLength="68.7" lengthAdjust="spacingAndGlyphs">Y = -1.938*X + 88.72</text>
<text x="446.25" y="183.5" font-size="8" text-anchor="middle" font-weight="normal" fill="#141414" stroke="#141414" stroke-width="0.2" textLength="35.9" lengthAdjust="spacingAndGlyphs"><tspan font-style="italic">P</tspan> = 0.0126</text>
<text x="442.65" y="254.6" font-size="9.2" text-anchor="middle" font-weight="normal" fill="#141414" stroke="#141414" stroke-width="0.3" textLength="93.5" lengthAdjust="spacingAndGlyphs">Platelet-FIX:C (mU/10<tspan font-size="5.5" dy="-3">8</tspan><tspan dy="3"> platelets)</tspan></text>
<g transform="translate(360,197.75) rotate(-90)">
<text x="0" y="0" font-size="9.3" text-anchor="middle" font-weight="normal" fill="#141414" stroke="#141414" stroke-width="0.32" textLength="57.1" lengthAdjust="spacingAndGlyphs">Half-life of inhibitors</text>
</g>
<g transform="translate(371,197.75) rotate(-90)">
<text x="0" y="0" font-size="9.3" text-anchor="middle" font-weight="normal" fill="#141414" stroke="#141414" stroke-width="0.32" textLength="34.5" lengthAdjust="spacingAndGlyphs">(<tspan font-style="italic">t</tspan><tspan font-size="7" dy="1.5">1/2</tspan><tspan dy="-1.5">) (days)</tspan></text>
</g>
<text x="7.8" y="296.9" font-size="10.8" text-anchor="start" font-weight="bold" fill="#000" stroke="#000" stroke-width="0.25">G</text>
<line x1="62" y1="303.55" x2="62" y2="368.6" stroke="#262626" stroke-width="1.4"/>
<line x1="59.4" y1="367.9" x2="62" y2="367.9" stroke="#262626" stroke-width="1.2"/>
<text x="56.6" y="370.7" font-size="8.1" text-anchor="end" font-weight="normal" fill="#141414" stroke="#141414" stroke-width="0.16">0</text>
<line x1="59.4" y1="355.47" x2="62" y2="355.47" stroke="#262626" stroke-width="1.2"/>
<text x="56.6" y="358.27" font-size="8.1" text-anchor="end" font-weight="normal" fill="#141414" stroke="#141414" stroke-width="0.16">20</text>
<line x1="59.4" y1="343.04" x2="62" y2="343.04" stroke="#262626" stroke-width="1.2"/>
<text x="56.6" y="345.84" font-size="8.1" text-anchor="end" font-weight="normal" fill="#141414" stroke="#141414" stroke-width="0.16">40</text>
<line x1="59.4" y1="330.61" x2="62" y2="330.61" stroke="#262626" stroke-width="1.2"/>
<text x="56.6" y="333.41" font-size="8.1" text-anchor="end" font-weight="normal" fill="#141414" stroke="#141414" stroke-width="0.16">60</text>
<line x1="59.4" y1="318.18" x2="62" y2="318.18" stroke="#262626" stroke-width="1.2"/>
<text x="56.6" y="320.98" font-size="8.1" text-anchor="end" font-weight="normal" fill="#141414" stroke="#141414" stroke-width="0.16">80</text>
<line x1="59.4" y1="305.75" x2="62" y2="305.75" stroke="#262626" stroke-width="1.2"/>
<text x="56.6" y="308.55" font-size="8.1" text-anchor="end" font-weight="normal" fill="#141414" stroke="#141414" stroke-width="0.16">100</text>
<line x1="61.3" y1="367.9" x2="157.1" y2="367.9" stroke="#262626" stroke-width="1.4"/>
<line x1="62" y1="367.9" x2="62" y2="370.5" stroke="#262626" stroke-width="1.2"/>
<text x="62" y="380.3" font-size="8.1" text-anchor="middle" font-weight="normal" fill="#141414" stroke="#141414" stroke-width="0.16">0</text>
<line x1="85.4" y1="367.9" x2="85.4" y2="370.5" stroke="#262626" stroke-width="1.2"/>
<text x="85.4" y="380.3" font-size="8.1" text-anchor="middle" font-weight="normal" fill="#141414" stroke="#141414" stroke-width="0.16">2</text>
<line x1="108.7" y1="367.9" x2="108.7" y2="370.5" stroke="#262626" stroke-width="1.2"/>
<text x="108.7" y="380.3" font-size="8.1" text-anchor="middle" font-weight="normal" fill="#141414" stroke="#141414" stroke-width="0.16">4</text>
<line x1="132.1" y1="367.9" x2="132.1" y2="370.5" stroke="#262626" stroke-width="1.2"/>
<text x="132.1" y="380.3" font-size="8.1" text-anchor="middle" font-weight="normal" fill="#141414" stroke="#141414" stroke-width="0.16">6</text>
<line x1="155.2" y1="367.9" x2="155.2" y2="370.5" stroke="#262626" stroke-width="1.2"/>
<text x="155.2" y="380.3" font-size="8.1" text-anchor="middle" font-weight="normal" fill="#141414" stroke="#141414" stroke-width="0.16">8</text>
<circle cx="70.6" cy="320.4" r="2.1" fill="#b0072b" stroke="none" stroke-width="0"/>
<circle cx="78.8" cy="325.2" r="2.1" fill="#b0072b" stroke="none" stroke-width="0"/>
<circle cx="83.5" cy="325.2" r="2.1" fill="#b0072b" stroke="none" stroke-width="0"/>
<circle cx="79.6" cy="329" r="2.1" fill="#b0072b" stroke="none" stroke-width="0"/>
<circle cx="70.2" cy="332.3" r="2.1" fill="#b0072b" stroke="none" stroke-width="0"/>
<circle cx="80.2" cy="335.2" r="2.1" fill="#b0072b" stroke="none" stroke-width="0"/>
<circle cx="75" cy="337.5" r="2.1" fill="#b0072b" stroke="none" stroke-width="0"/>
<circle cx="106.2" cy="335.2" r="2.1" fill="#b0072b" stroke="none" stroke-width="0"/>
<circle cx="110" cy="335.2" r="2.1" fill="#b0072b" stroke="none" stroke-width="0"/>
<circle cx="119" cy="337.5" r="2.1" fill="#b0072b" stroke="none" stroke-width="0"/>
<circle cx="107.1" cy="348.3" r="2.1" fill="#b0072b" stroke="none" stroke-width="0"/>
<circle cx="124" cy="347.3" r="2.1" fill="#b0072b" stroke="none" stroke-width="0"/>
<circle cx="138.5" cy="341.3" r="2.1" fill="#b0072b" stroke="none" stroke-width="0"/>
<line x1="70.6" y1="328.1" x2="138.8" y2="345.8" stroke="#111" stroke-width="1"/>
<text x="109.5" y="311.7" font-size="8" text-anchor="middle" font-weight="normal" fill="#141414" stroke="#141414" stroke-width="0.2" textLength="66.4" lengthAdjust="spacingAndGlyphs">Y = -4.767*X + 67.64</text>
<text x="109.5" y="320.8" font-size="8" text-anchor="middle" font-weight="normal" fill="#141414" stroke="#141414" stroke-width="0.2" textLength="35.6" lengthAdjust="spacingAndGlyphs"><tspan font-style="italic">P</tspan> = 0.0079</text>
<text x="109.25" y="392.3" font-size="9.2" text-anchor="middle" font-weight="normal" fill="#141414" stroke="#141414" stroke-width="0.3" textLength="97.7" lengthAdjust="spacingAndGlyphs">Platelet-FIX:Ag (mU/10<tspan font-size="5.5" dy="-3">8</tspan><tspan dy="3"> platelets)</tspan></text>
<g transform="translate(15.4,335.55) rotate(-90)">
<text x="0" y="0" font-size="9.3" text-anchor="middle" font-weight="normal" fill="#141414" stroke="#141414" stroke-width="0.32" textLength="54.7" lengthAdjust="spacingAndGlyphs">Half-life of anti-FIX</text>
</g>
<g transform="translate(26.6,335.05) rotate(-90)">
<text x="0" y="0" font-size="9.3" text-anchor="middle" font-weight="normal" fill="#141414" stroke="#141414" stroke-width="0.32" textLength="40.5" lengthAdjust="spacingAndGlyphs">total IgG titers</text>
</g>
<g transform="translate(37,335.55) rotate(-90)">
<text x="0" y="0" font-size="9.3" text-anchor="middle" font-weight="normal" fill="#141414" stroke="#141414" stroke-width="0.32" textLength="35.7" lengthAdjust="spacingAndGlyphs">(<tspan font-style="italic">t</tspan><tspan font-size="7" dy="1.5">1/2</tspan><tspan dy="-1.5">) (days)</tspan></text>
</g>
<text x="182.8" y="296.7" font-size="10.8" text-anchor="start" font-weight="bold" fill="#000" stroke="#000" stroke-width="0.25">H</text>
<line x1="237.2" y1="303.55" x2="237.2" y2="368.6" stroke="#262626" stroke-width="1.4"/>
<line x1="234.6" y1="367.9" x2="237.2" y2="367.9" stroke="#262626" stroke-width="1.2"/>
<text x="231.8" y="370.7" font-size="8.1" text-anchor="end" font-weight="normal" fill="#141414" stroke="#141414" stroke-width="0.16">0</text>
<line x1="234.6" y1="355.47" x2="237.2" y2="355.47" stroke="#262626" stroke-width="1.2"/>
<text x="231.8" y="358.27" font-size="8.1" text-anchor="end" font-weight="normal" fill="#141414" stroke="#141414" stroke-width="0.16">20</text>
<line x1="234.6" y1="343.04" x2="237.2" y2="343.04" stroke="#262626" stroke-width="1.2"/>
<text x="231.8" y="345.84" font-size="8.1" text-anchor="end" font-weight="normal" fill="#141414" stroke="#141414" stroke-width="0.16">40</text>
<line x1="234.6" y1="330.61" x2="237.2" y2="330.61" stroke="#262626" stroke-width="1.2"/>
<text x="231.8" y="333.41" font-size="8.1" text-anchor="end" font-weight="normal" fill="#141414" stroke="#141414" stroke-width="0.16">60</text>
<line x1="234.6" y1="318.18" x2="237.2" y2="318.18" stroke="#262626" stroke-width="1.2"/>
<text x="231.8" y="320.98" font-size="8.1" text-anchor="end" font-weight="normal" fill="#141414" stroke="#141414" stroke-width="0.16">80</text>
<line x1="234.6" y1="305.75" x2="237.2" y2="305.75" stroke="#262626" stroke-width="1.2"/>
<text x="231.8" y="308.55" font-size="8.1" text-anchor="end" font-weight="normal" fill="#141414" stroke="#141414" stroke-width="0.16">100</text>
<line x1="236.5" y1="367.9" x2="332.1" y2="367.9" stroke="#262626" stroke-width="1.4"/>
<line x1="237.2" y1="367.9" x2="237.2" y2="370.5" stroke="#262626" stroke-width="1.2"/>
<text x="237.2" y="380.3" font-size="8.1" text-anchor="middle" font-weight="normal" fill="#141414" stroke="#141414" stroke-width="0.16">0</text>
<line x1="260.4" y1="367.9" x2="260.4" y2="370.5" stroke="#262626" stroke-width="1.2"/>
<text x="260.4" y="380.3" font-size="8.1" text-anchor="middle" font-weight="normal" fill="#141414" stroke="#141414" stroke-width="0.16">10</text>
<line x1="283.7" y1="367.9" x2="283.7" y2="370.5" stroke="#262626" stroke-width="1.2"/>
<text x="283.7" y="380.3" font-size="8.1" text-anchor="middle" font-weight="normal" fill="#141414" stroke="#141414" stroke-width="0.16">20</text>
<line x1="307.1" y1="367.9" x2="307.1" y2="370.5" stroke="#262626" stroke-width="1.2"/>
<text x="307.1" y="380.3" font-size="8.1" text-anchor="middle" font-weight="normal" fill="#141414" stroke="#141414" stroke-width="0.16">30</text>
<line x1="330.2" y1="367.9" x2="330.2" y2="370.5" stroke="#262626" stroke-width="1.2"/>
<text x="330.2" y="380.3" font-size="8.1" text-anchor="middle" font-weight="normal" fill="#141414" stroke="#141414" stroke-width="0.16">40</text>
<circle cx="241.3" cy="320.4" r="2.1" fill="#b0072b" stroke="none" stroke-width="0"/>
<circle cx="257.5" cy="325" r="2.1" fill="#b0072b" stroke="none" stroke-width="0"/>
<circle cx="248.1" cy="329" r="2.1" fill="#b0072b" stroke="none" stroke-width="0"/>
<circle cx="242.1" cy="332.3" r="2.1" fill="#b0072b" stroke="none" stroke-width="0"/>
<circle cx="248.8" cy="335.2" r="2.1" fill="#b0072b" stroke="none" stroke-width="0"/>
<circle cx="244.2" cy="337.5" r="2.1" fill="#b0072b" stroke="none" stroke-width="0"/>
<circle cx="274.8" cy="335.2" r="2.1" fill="#b0072b" stroke="none" stroke-width="0"/>
<circle cx="285.6" cy="335.2" r="2.1" fill="#b0072b" stroke="none" stroke-width="0"/>
<circle cx="290.8" cy="337.5" r="2.1" fill="#b0072b" stroke="none" stroke-width="0"/>
<circle cx="267.7" cy="348.3" r="2.1" fill="#b0072b" stroke="none" stroke-width="0"/>
<circle cx="307.7" cy="341" r="2.1" fill="#b0072b" stroke="none" stroke-width="0"/>
<circle cx="321.2" cy="347.3" r="2.1" fill="#b0072b" stroke="none" stroke-width="0"/>
<line x1="241.7" y1="329" x2="320.6" y2="345.4" stroke="#111" stroke-width="1"/>
<text x="283.85" y="311.7" font-size="8" text-anchor="middle" font-weight="normal" fill="#141414" stroke="#141414" stroke-width="0.2" textLength="71.5" lengthAdjust="spacingAndGlyphs">Y = -0.7714*X + 64.36</text>
<text x="284.1" y="320.8" font-size="8" text-anchor="middle" font-weight="normal" fill="#141414" stroke="#141414" stroke-width="0.2" textLength="35.6" lengthAdjust="spacingAndGlyphs"><tspan font-style="italic">P</tspan> = 0.0173</text>
<text x="284.1" y="392.3" font-size="9.2" text-anchor="middle" font-weight="normal" fill="#141414" stroke="#141414" stroke-width="0.3" textLength="95.2" lengthAdjust="spacingAndGlyphs">Platelet-FIX:C (mU/10<tspan font-size="5.5" dy="-3">8</tspan><tspan dy="3"> platelets)</tspan></text>
<g transform="translate(190.4,335.55) rotate(-90)">
<text x="0" y="0" font-size="9.3" text-anchor="middle" font-weight="normal" fill="#141414" stroke="#141414" stroke-width="0.32" textLength="54.7" lengthAdjust="spacingAndGlyphs">Half-life of anti-FIX</text>
</g>
<g transform="translate(201.6,335.05) rotate(-90)">
<text x="0" y="0" font-size="9.3" text-anchor="middle" font-weight="normal" fill="#141414" stroke="#141414" stroke-width="0.32" textLength="40.5" lengthAdjust="spacingAndGlyphs">total IgG titers</text>
</g>
<g transform="translate(212,335.55) rotate(-90)">
<text x="0" y="0" font-size="9.3" text-anchor="middle" font-weight="normal" fill="#141414" stroke="#141414" stroke-width="0.32" textLength="35.7" lengthAdjust="spacingAndGlyphs">(<tspan font-style="italic">t</tspan><tspan font-size="7" dy="1.5">1/2</tspan><tspan dy="-1.5">) (days)</tspan></text>
</g>
<text x="355" y="295.7" font-size="10.8" text-anchor="start" font-weight="bold" fill="#000" stroke="#000" stroke-width="0.25">I</text>
<line x1="395.8" y1="303.8" x2="395.8" y2="368.5" stroke="#262626" stroke-width="1.4"/>
<line x1="393.2" y1="367.8" x2="395.8" y2="367.8" stroke="#262626" stroke-width="1.2"/>
<text x="390.4" y="370.6" font-size="8.1" text-anchor="end" font-weight="normal" fill="#141414" stroke="#141414" stroke-width="0.16">0</text>
<line x1="393.2" y1="352.35" x2="395.8" y2="352.35" stroke="#262626" stroke-width="1.2"/>
<text x="390.4" y="355.15" font-size="8.1" text-anchor="end" font-weight="normal" fill="#141414" stroke="#141414" stroke-width="0.16">20</text>
<line x1="393.2" y1="336.9" x2="395.8" y2="336.9" stroke="#262626" stroke-width="1.2"/>
<text x="390.4" y="339.7" font-size="8.1" text-anchor="end" font-weight="normal" fill="#141414" stroke="#141414" stroke-width="0.16">40</text>
<line x1="393.2" y1="321.45" x2="395.8" y2="321.45" stroke="#262626" stroke-width="1.2"/>
<text x="390.4" y="324.25" font-size="8.1" text-anchor="end" font-weight="normal" fill="#141414" stroke="#141414" stroke-width="0.16">60</text>
<line x1="393.2" y1="306" x2="395.8" y2="306" stroke="#262626" stroke-width="1.2"/>
<text x="390.4" y="308.8" font-size="8.1" text-anchor="end" font-weight="normal" fill="#141414" stroke="#141414" stroke-width="0.16">80</text>
<line x1="395.2" y1="367.8" x2="473.5" y2="367.8" stroke="#262626" stroke-width="1.2"/>
<line x1="477.7" y1="367.8" x2="511.6" y2="367.8" stroke="#262626" stroke-width="1.2"/>
<line x1="402.1" y1="367.8" x2="402.1" y2="370.4" stroke="#262626" stroke-width="1.2"/>
<line x1="410.7" y1="367.8" x2="410.7" y2="370.4" stroke="#262626" stroke-width="1.2"/>
<line x1="419.2" y1="367.8" x2="419.2" y2="370.4" stroke="#262626" stroke-width="1.2"/>
<line x1="428" y1="367.8" x2="428" y2="370.4" stroke="#262626" stroke-width="1.2"/>
<line x1="436.6" y1="367.8" x2="436.6" y2="370.4" stroke="#262626" stroke-width="1.2"/>
<line x1="445.1" y1="367.8" x2="445.1" y2="370.4" stroke="#262626" stroke-width="1.2"/>
<line x1="453.9" y1="367.8" x2="453.9" y2="370.4" stroke="#262626" stroke-width="1.2"/>
<line x1="462.4" y1="367.8" x2="462.4" y2="370.4" stroke="#262626" stroke-width="1.2"/>
<line x1="471.2" y1="367.8" x2="471.2" y2="370.4" stroke="#262626" stroke-width="1.2"/>
<line x1="402.1" y1="314.8" x2="402.1" y2="356.3" stroke="#7dbd5d" stroke-width="1"/>
<line x1="400.1" y1="314.8" x2="404.1" y2="314.8" stroke="#7dbd5d" stroke-width="1"/>
<line x1="400.1" y1="356.3" x2="404.1" y2="356.3" stroke="#7dbd5d" stroke-width="1"/>
<line x1="410.7" y1="346.9" x2="410.7" y2="354" stroke="#7dbd5d" stroke-width="1"/>
<line x1="408.7" y1="346.9" x2="412.7" y2="346.9" stroke="#7dbd5d" stroke-width="1"/>
<line x1="408.7" y1="354" x2="412.7" y2="354" stroke="#7dbd5d" stroke-width="1"/>
<line x1="419.2" y1="349.3" x2="419.2" y2="362.9" stroke="#7dbd5d" stroke-width="1"/>
<line x1="417.2" y1="349.3" x2="421.2" y2="349.3" stroke="#7dbd5d" stroke-width="1"/>
<line x1="417.2" y1="362.9" x2="421.2" y2="362.9" stroke="#7dbd5d" stroke-width="1"/>
<line x1="428" y1="350.6" x2="428" y2="364.7" stroke="#7dbd5d" stroke-width="1"/>
<line x1="426" y1="350.6" x2="430" y2="350.6" stroke="#7dbd5d" stroke-width="1"/>
<line x1="426" y1="364.7" x2="430" y2="364.7" stroke="#7dbd5d" stroke-width="1"/>
<line x1="436.6" y1="361.3" x2="436.6" y2="366" stroke="#7dbd5d" stroke-width="1"/>
<line x1="434.6" y1="361.3" x2="438.6" y2="361.3" stroke="#7dbd5d" stroke-width="1"/>
<line x1="434.6" y1="366" x2="438.6" y2="366" stroke="#7dbd5d" stroke-width="1"/>
<line x1="445.1" y1="361" x2="445.1" y2="365.5" stroke="#7dbd5d" stroke-width="1"/>
<line x1="443.1" y1="361" x2="447.1" y2="361" stroke="#7dbd5d" stroke-width="1"/>
<line x1="443.1" y1="365.5" x2="447.1" y2="365.5" stroke="#7dbd5d" stroke-width="1"/>
<line x1="453.9" y1="364.5" x2="453.9" y2="367" stroke="#7dbd5d" stroke-width="1"/>
<line x1="451.9" y1="364.5" x2="455.9" y2="364.5" stroke="#7dbd5d" stroke-width="1"/>
<line x1="451.9" y1="367" x2="455.9" y2="367" stroke="#7dbd5d" stroke-width="1"/>
<line x1="462.4" y1="364.5" x2="462.4" y2="367" stroke="#7dbd5d" stroke-width="1"/>
<line x1="460.4" y1="364.5" x2="464.4" y2="364.5" stroke="#7dbd5d" stroke-width="1"/>
<line x1="460.4" y1="367" x2="464.4" y2="367" stroke="#7dbd5d" stroke-width="1"/>
<line x1="471.2" y1="367" x2="471.2" y2="368" stroke="#7dbd5d" stroke-width="1"/>
<line x1="469.2" y1="367" x2="473.2" y2="367" stroke="#7dbd5d" stroke-width="1"/>
<line x1="469.2" y1="368" x2="473.2" y2="368" stroke="#7dbd5d" stroke-width="1"/>
<polyline points="402.1,335.6 410.7,350 419.2,356.5 428,357.4 436.6,363.4 445.1,363.2 453.9,365.7 462.4,365.7 471.2,367.8" fill="none" stroke="#78bb57" stroke-width="1.2" stroke-linejoin="round"/>
<polyline points="479.6,367.8 488.3,367.8 496.9,367.8 505.4,367.8" fill="none" stroke="#78bb57" stroke-width="1.4" stroke-linejoin="round"/>
<circle cx="402.1" cy="335.6" r="2.1" fill="#4fa331" stroke="none" stroke-width="0"/>
<circle cx="410.7" cy="350" r="2.1" fill="#4fa331" stroke="none" stroke-width="0"/>
<circle cx="419.2" cy="356.5" r="2.1" fill="#4fa331" stroke="none" stroke-width="0"/>
<circle cx="428" cy="357.4" r="2.1" fill="#4fa331" stroke="none" stroke-width="0"/>
<circle cx="436.6" cy="363.4" r="2.1" fill="#4fa331" stroke="none" stroke-width="0"/>
<circle cx="445.1" cy="363.2" r="2.1" fill="#4fa331" stroke="none" stroke-width="0"/>
<circle cx="453.9" cy="365.7" r="2.1" fill="#4fa331" stroke="none" stroke-width="0"/>
<circle cx="462.4" cy="365.7" r="2.1" fill="#4fa331" stroke="none" stroke-width="0"/>
<circle cx="471.2" cy="367.8" r="2.1" fill="#4fa331" stroke="none" stroke-width="0"/>
<circle cx="479.6" cy="367.8" r="2.1" fill="#4fa331" stroke="none" stroke-width="0"/>
<circle cx="488.3" cy="367.8" r="2.1" fill="#4fa331" stroke="none" stroke-width="0"/>
<circle cx="496.9" cy="367.8" r="2.1" fill="#4fa331" stroke="none" stroke-width="0"/>
<circle cx="505.4" cy="367.8" r="2.1" fill="#4fa331" stroke="none" stroke-width="0"/>
<g stroke="#78bb57" stroke-width="0.8">
<line x1="471" y1="372.4" x2="477" y2="362.8" stroke="#78bb57" stroke-width="1.1"/>
<line x1="473.8" y1="372.4" x2="479.8" y2="362.8" stroke="#78bb57" stroke-width="1.1"/>
</g>
<text transform="translate(404.7,376) rotate(-45)" font-size="8.4" text-anchor="end" fill="#141414" stroke="#141414" stroke-width="0.15">0</text>
<text transform="translate(413.3,376) rotate(-45)" font-size="8.4" text-anchor="end" fill="#141414" stroke="#141414" stroke-width="0.15">4</text>
<text transform="translate(421.8,376) rotate(-45)" font-size="8.4" text-anchor="end" fill="#141414" stroke="#141414" stroke-width="0.15">8</text>
<text transform="translate(430.6,376) rotate(-45)" font-size="8.4" text-anchor="end" fill="#141414" stroke="#141414" stroke-width="0.15">12</text>
<text transform="translate(439.2,376) rotate(-45)" font-size="8.4" text-anchor="end" fill="#141414" stroke="#141414" stroke-width="0.15">16</text>
<text transform="translate(447.7,376) rotate(-45)" font-size="8.4" text-anchor="end" fill="#141414" stroke="#141414" stroke-width="0.15">20</text>
<text transform="translate(456.5,376) rotate(-45)" font-size="8.4" text-anchor="end" fill="#141414" stroke="#141414" stroke-width="0.15">24</text>
<text transform="translate(465,376) rotate(-45)" font-size="8.4" text-anchor="end" fill="#141414" stroke="#141414" stroke-width="0.15">28</text>
<text transform="translate(473.8,376) rotate(-45)" font-size="8.4" text-anchor="end" fill="#141414" stroke="#141414" stroke-width="0.15">32</text>
<text x="440.35" y="392.6" font-size="9.4" text-anchor="middle" font-weight="normal" fill="#141414" stroke="#141414" stroke-width="0.4" textLength="50.5" lengthAdjust="spacingAndGlyphs">Weeks post-HSCT</text>
<g transform="translate(365.3,336.5) rotate(-90)">
<text x="0" y="0" font-size="9.3" text-anchor="middle" font-weight="normal" fill="#141414" stroke="#141414" stroke-width="0.32" textLength="47" lengthAdjust="spacingAndGlyphs">Anti-FIX inhibitor</text>
</g>
<g transform="translate(375.5,336) rotate(-90)">
<text x="0" y="0" font-size="9.3" text-anchor="middle" font-weight="normal" fill="#141414" stroke="#141414" stroke-width="0.32" textLength="38.6" lengthAdjust="spacingAndGlyphs">titer (BU/ml)</text>
</g>
<text x="425.05" y="336.2" font-size="7.6" text-anchor="middle" font-weight="normal" fill="#141414" stroke="#141414" stroke-width="0.16" textLength="15.9" lengthAdjust="spacingAndGlyphs">n = 3</text>
<text x="487.95" y="333.9" font-size="7.6" text-anchor="middle" font-weight="normal" fill="#141414" stroke="#141414" stroke-width="0.16" textLength="43.7" lengthAdjust="spacingAndGlyphs">rhF9 100 U/kg</text>
<text x="489.65" y="342.9" font-size="7.6" text-anchor="middle" font-weight="normal" fill="#141414" stroke="#141414" stroke-width="0.16" textLength="27.7" lengthAdjust="spacingAndGlyphs">weekly IV</text>
<line x1="480.9" y1="347.7" x2="480.9" y2="360.1" stroke="#111" stroke-width="0.95"/>
<path d="M478.4,358.5 L483.4,358.5 L480.9,363.4 Z" fill="#000"/>
<line x1="484.2" y1="347.7" x2="484.2" y2="360.1" stroke="#111" stroke-width="0.95"/>
<path d="M481.7,358.5 L486.7,358.5 L484.2,363.4 Z" fill="#000"/>
<line x1="490.5" y1="347.7" x2="490.5" y2="360.1" stroke="#111" stroke-width="0.95"/>
<path d="M488,358.5 L493,358.5 L490.5,363.4 Z" fill="#000"/>
<line x1="493.8" y1="347.7" x2="493.8" y2="360.1" stroke="#111" stroke-width="0.95"/>
<path d="M491.3,358.5 L496.3,358.5 L493.8,363.4 Z" fill="#000"/>
<text x="9.2" y="413.5" font-size="10.8" text-anchor="start" font-weight="bold" fill="#000" stroke="#000" stroke-width="0.25">J</text>
<line x1="62.6" y1="421.9" x2="62.6" y2="486.4" stroke="#262626" stroke-width="1.4"/>
<line x1="60" y1="485.7" x2="62.6" y2="485.7" stroke="#262626" stroke-width="1.2"/>
<text x="57.2" y="488.5" font-size="8.1" text-anchor="end" font-weight="normal" fill="#141414" stroke="#141414" stroke-width="0.16">0.0</text>
<line x1="60" y1="473.38" x2="62.6" y2="473.38" stroke="#262626" stroke-width="1.2"/>
<text x="57.2" y="476.18" font-size="8.1" text-anchor="end" font-weight="normal" fill="#141414" stroke="#141414" stroke-width="0.16">0.3</text>
<line x1="60" y1="461.06" x2="62.6" y2="461.06" stroke="#262626" stroke-width="1.2"/>
<text x="57.2" y="463.86" font-size="8.1" text-anchor="end" font-weight="normal" fill="#141414" stroke="#141414" stroke-width="0.16">0.6</text>
<line x1="60" y1="448.74" x2="62.6" y2="448.74" stroke="#262626" stroke-width="1.2"/>
<text x="57.2" y="451.54" font-size="8.1" text-anchor="end" font-weight="normal" fill="#141414" stroke="#141414" stroke-width="0.16">0.9</text>
<line x1="60" y1="436.42" x2="62.6" y2="436.42" stroke="#262626" stroke-width="1.2"/>
<text x="57.2" y="439.22" font-size="8.1" text-anchor="end" font-weight="normal" fill="#141414" stroke="#141414" stroke-width="0.16">1.2</text>
<line x1="60" y1="424.09" x2="62.6" y2="424.09" stroke="#262626" stroke-width="1.2"/>
<text x="57.2" y="426.89" font-size="8.1" text-anchor="end" font-weight="normal" fill="#141414" stroke="#141414" stroke-width="0.16">1.5</text>
<rect x="69.8" y="454.9" width="12.2" height="30.8" fill="#bad7a1"/>
<rect x="90.2" y="479.5" width="11.8" height="6.2" fill="#c97a6d"/>
<line x1="61.9" y1="485.7" x2="109.2" y2="485.7" stroke="#262626" stroke-width="1.4"/>
<line x1="75.8" y1="485.7" x2="75.8" y2="488.3" stroke="#262626" stroke-width="1.2"/>
<line x1="96.1" y1="485.7" x2="96.1" y2="488.3" stroke="#262626" stroke-width="1.2"/>
<line x1="75.8" y1="441.4" x2="75.8" y2="467" stroke="#7dbd5d" stroke-width="1"/>
<line x1="73.3" y1="441.4" x2="78.3" y2="441.4" stroke="#7dbd5d" stroke-width="1"/>
<line x1="96.1" y1="472.7" x2="96.1" y2="485" stroke="#b0072b" stroke-width="1"/>
<line x1="93.6" y1="472.7" x2="98.6" y2="472.7" stroke="#b0072b" stroke-width="1"/>
<rect x="74" y="430.7" width="3.6" height="3.6" fill="#4fa331"/>
<rect x="74" y="443.3" width="3.6" height="3.6" fill="#4fa331"/>
<rect x="68.7" y="453.1" width="3.6" height="3.6" fill="#4fa331"/>
<rect x="76.8" y="453.1" width="3.6" height="3.6" fill="#4fa331"/>
<rect x="71.3" y="458.2" width="3.6" height="3.6" fill="#4fa331"/>
<rect x="76.8" y="459.6" width="3.6" height="3.6" fill="#4fa331"/>
<rect x="74" y="472.9" width="3.6" height="3.6" fill="#4fa331"/>
<circle cx="95.6" cy="468" r="1.8" fill="#b0072b" stroke="none" stroke-width="0"/>
<circle cx="92.7" cy="476.6" r="1.8" fill="#b0072b" stroke="none" stroke-width="0"/>
<circle cx="99" cy="479.2" r="1.8" fill="#b0072b" stroke="none" stroke-width="0"/>
<circle cx="91.7" cy="481.5" r="1.8" fill="#b0072b" stroke="none" stroke-width="0"/>
<circle cx="99.8" cy="482" r="1.8" fill="#b0072b" stroke="none" stroke-width="0"/>
<circle cx="95.6" cy="485.4" r="1.8" fill="#b0072b" stroke="none" stroke-width="0"/>
<polyline points="75.8,427.8 75.8,424.4 96.1,424.4 96.1,427.8" fill="none" stroke="#262626" stroke-width="1" stroke-linejoin="round"/>
<text x="86.3" y="425.2" font-size="6.5" text-anchor="middle" font-weight="normal" fill="#141414" stroke="#141414" stroke-width="0.16">**</text>
<g transform="translate(30.9,453.2) rotate(-90)">
<text x="0" y="0" font-size="9.3" text-anchor="middle" font-weight="normal" fill="#141414" stroke="#141414" stroke-width="0.32" textLength="48" lengthAdjust="spacingAndGlyphs">Ratio of inhibitor</text>
</g>
<g transform="translate(40.4,453.2) rotate(-90)">
<text x="0" y="0" font-size="9.3" text-anchor="middle" font-weight="normal" fill="#141414" stroke="#141414" stroke-width="0.32" textLength="59.4" lengthAdjust="spacingAndGlyphs">titers post-/pre-HSCT</text>
</g>
<text x="74.5" y="498.2" font-size="8.1" text-anchor="middle" font-weight="normal" fill="#141414" stroke="#141414" stroke-width="0.16" textLength="2.9" lengthAdjust="spacingAndGlyphs">1</text>
<text x="94.4" y="498.2" font-size="8.1" text-anchor="middle" font-weight="normal" fill="#141414" stroke="#141414" stroke-width="0.16" textLength="3.9" lengthAdjust="spacingAndGlyphs">2</text>
<circle cx="78.6" cy="493.6" r="0.85" fill="none" stroke="#333" stroke-width="1"/>
<circle cx="98.6" cy="493.6" r="0.85" fill="none" stroke="#333" stroke-width="1"/>
<line x1="61.6" y1="502.5" x2="110.6" y2="502.5" stroke="#262626" stroke-width="1"/>
<text x="85.6" y="512.9" font-size="7.8" text-anchor="middle" font-weight="normal" fill="#141414" stroke="#141414" stroke-width="0.16" textLength="51.4" lengthAdjust="spacingAndGlyphs">2bCoF9R338L-</text>
<text x="85.85" y="521.3" font-size="7.8" text-anchor="middle" font-weight="normal" fill="#141414" stroke="#141414" stroke-width="0.16" textLength="70.9" lengthAdjust="spacingAndGlyphs">transduced recipients</text>
<text x="182.8" y="414.3" font-size="10.8" text-anchor="start" font-weight="bold" fill="#000" stroke="#000" stroke-width="0.25">K</text>
<line x1="237.6" y1="421.9" x2="237.6" y2="486.2" stroke="#262626" stroke-width="1.4"/>
<line x1="235" y1="485.5" x2="237.6" y2="485.5" stroke="#262626" stroke-width="1.2"/>
<text x="232.2" y="488.3" font-size="8.1" text-anchor="end" font-weight="normal" fill="#141414" stroke="#141414" stroke-width="0.16">0</text>
<line x1="235" y1="473.21" x2="237.6" y2="473.21" stroke="#262626" stroke-width="1.2"/>
<text x="232.2" y="476.01" font-size="8.1" text-anchor="end" font-weight="normal" fill="#141414" stroke="#141414" stroke-width="0.16">20</text>
<line x1="235" y1="460.92" x2="237.6" y2="460.92" stroke="#262626" stroke-width="1.2"/>
<text x="232.2" y="463.72" font-size="8.1" text-anchor="end" font-weight="normal" fill="#141414" stroke="#141414" stroke-width="0.16">40</text>
<line x1="235" y1="448.63" x2="237.6" y2="448.63" stroke="#262626" stroke-width="1.2"/>
<text x="232.2" y="451.43" font-size="8.1" text-anchor="end" font-weight="normal" fill="#141414" stroke="#141414" stroke-width="0.16">60</text>
<line x1="235" y1="436.34" x2="237.6" y2="436.34" stroke="#262626" stroke-width="1.2"/>
<text x="232.2" y="439.14" font-size="8.1" text-anchor="end" font-weight="normal" fill="#141414" stroke="#141414" stroke-width="0.16">80</text>
<line x1="235" y1="424.05" x2="237.6" y2="424.05" stroke="#262626" stroke-width="1.2"/>
<text x="232.2" y="426.85" font-size="8.1" text-anchor="end" font-weight="normal" fill="#141414" stroke="#141414" stroke-width="0.16">100</text>
<rect x="244.8" y="449.8" width="12.2" height="35.7" fill="#bad7a1"/>
<rect x="264.7" y="465.1" width="12.3" height="20.4" fill="#c97a6d"/>
<line x1="236.9" y1="485.5" x2="284.2" y2="485.5" stroke="#262626" stroke-width="1.4"/>
<line x1="250.9" y1="485.5" x2="250.9" y2="488.1" stroke="#262626" stroke-width="1.2"/>
<line x1="270.8" y1="485.5" x2="270.8" y2="488.1" stroke="#262626" stroke-width="1.2"/>
<line x1="250.8" y1="438" x2="250.8" y2="461" stroke="#7dbd5d" stroke-width="1"/>
<line x1="248.3" y1="438" x2="253.3" y2="438" stroke="#7dbd5d" stroke-width="1"/>
<line x1="270.8" y1="455.8" x2="270.8" y2="474" stroke="#b0072b" stroke-width="1"/>
<line x1="267.8" y1="455.8" x2="273.8" y2="455.8" stroke="#b0072b" stroke-width="1"/>
<rect x="248.85" y="436.35" width="3.5" height="3.5" fill="#4fa331"/>
<rect x="245.05" y="441.35" width="3.5" height="3.5" fill="#4fa331"/>
<rect x="252.65" y="441.35" width="3.5" height="3.5" fill="#4fa331"/>
<rect x="248.85" y="445.45" width="3.5" height="3.5" fill="#4fa331"/>
<rect x="245.95" y="448.85" width="3.5" height="3.5" fill="#4fa331"/>
<rect x="251.85" y="453.65" width="3.5" height="3.5" fill="#4fa331"/>
<rect x="249.05" y="463.85" width="3.5" height="3.5" fill="#4fa331"/>
<circle cx="270.6" cy="453.2" r="1.85" fill="#b0072b" stroke="none" stroke-width="0"/>
<circle cx="270.6" cy="459.2" r="1.85" fill="#b0072b" stroke="none" stroke-width="0"/>
<circle cx="266.7" cy="464.2" r="1.85" fill="#b0072b" stroke="none" stroke-width="0"/>
<circle cx="274.3" cy="463.4" r="1.85" fill="#b0072b" stroke="none" stroke-width="0"/>
<circle cx="270.6" cy="467.3" r="1.85" fill="#b0072b" stroke="none" stroke-width="0"/>
<circle cx="270.6" cy="479.8" r="1.85" fill="#b0072b" stroke="none" stroke-width="0"/>
<polyline points="250.8,432.9 250.8,429.5 271.4,429.5 271.4,432.9" fill="none" stroke="#262626" stroke-width="1" stroke-linejoin="round"/>
<text x="261.3" y="430.4" font-size="6.5" text-anchor="middle" font-weight="normal" fill="#141414" stroke="#141414" stroke-width="0.16">*</text>
<g transform="translate(202.4,453.2) rotate(-90)">
<text x="0" y="0" font-size="9.3" text-anchor="middle" font-weight="normal" fill="#141414" stroke="#141414" stroke-width="0.32" textLength="53.6" lengthAdjust="spacingAndGlyphs">Half-life of anti-FIX</text>
</g>
<g transform="translate(212.4,453.7) rotate(-90)">
<text x="0" y="0" font-size="9.3" text-anchor="middle" font-weight="normal" fill="#141414" stroke="#141414" stroke-width="0.32" textLength="64" lengthAdjust="spacingAndGlyphs">total IgG (<tspan font-style="italic">t1/2</tspan>) (days)</text>
</g>
<text x="249.6" y="498.2" font-size="8.1" text-anchor="middle" font-weight="normal" fill="#141414" stroke="#141414" stroke-width="0.16" textLength="2.9" lengthAdjust="spacingAndGlyphs">1</text>
<text x="268.6" y="498.2" font-size="8.1" text-anchor="middle" font-weight="normal" fill="#141414" stroke="#141414" stroke-width="0.16" textLength="3.9" lengthAdjust="spacingAndGlyphs">2</text>
<circle cx="253.7" cy="493.6" r="0.85" fill="none" stroke="#333" stroke-width="1"/>
<circle cx="272.8" cy="493.6" r="0.85" fill="none" stroke="#333" stroke-width="1"/>
<line x1="236.1" y1="502.8" x2="285.6" y2="502.8" stroke="#262626" stroke-width="1"/>
<text x="260.4" y="512.9" font-size="7.8" text-anchor="middle" font-weight="normal" fill="#141414" stroke="#141414" stroke-width="0.16" textLength="51.8" lengthAdjust="spacingAndGlyphs">2bCoF9R338L-</text>
<text x="260.65" y="521.3" font-size="7.8" text-anchor="middle" font-weight="normal" fill="#141414" stroke="#141414" stroke-width="0.16" textLength="71.3" lengthAdjust="spacingAndGlyphs">transduced recipients</text>
<text x="353.8" y="414.3" font-size="10.8" text-anchor="start" font-weight="bold" fill="#000" stroke="#000" stroke-width="0.25">L</text>
<line x1="395.8" y1="421.9" x2="395.8" y2="486.2" stroke="#262626" stroke-width="1.4"/>
<line x1="393.2" y1="485.5" x2="395.8" y2="485.5" stroke="#262626" stroke-width="1.2"/>
<text x="390.4" y="488.3" font-size="8.1" text-anchor="end" font-weight="normal" fill="#141414" stroke="#141414" stroke-width="0.16">0</text>
<line x1="393.2" y1="473.22" x2="395.8" y2="473.22" stroke="#262626" stroke-width="1.2"/>
<text x="390.4" y="476.02" font-size="8.1" text-anchor="end" font-weight="normal" fill="#141414" stroke="#141414" stroke-width="0.16">5</text>
<line x1="393.2" y1="460.94" x2="395.8" y2="460.94" stroke="#262626" stroke-width="1.2"/>
<text x="390.4" y="463.74" font-size="8.1" text-anchor="end" font-weight="normal" fill="#141414" stroke="#141414" stroke-width="0.16">10</text>
<line x1="393.2" y1="448.66" x2="395.8" y2="448.66" stroke="#262626" stroke-width="1.2"/>
<text x="390.4" y="451.46" font-size="8.1" text-anchor="end" font-weight="normal" fill="#141414" stroke="#141414" stroke-width="0.16">15</text>
<line x1="393.2" y1="436.38" x2="395.8" y2="436.38" stroke="#262626" stroke-width="1.2"/>
<text x="390.4" y="439.18" font-size="8.1" text-anchor="end" font-weight="normal" fill="#141414" stroke="#141414" stroke-width="0.16">20</text>
<line x1="393.2" y1="424.1" x2="395.8" y2="424.1" stroke="#262626" stroke-width="1.2"/>
<text x="390.4" y="426.9" font-size="8.1" text-anchor="end" font-weight="normal" fill="#141414" stroke="#141414" stroke-width="0.16">25</text>
<line x1="395.2" y1="485.5" x2="439.8" y2="485.5" stroke="#262626" stroke-width="1.2"/>
<line x1="446.8" y1="485.5" x2="489.1" y2="485.5" stroke="#262626" stroke-width="1.2"/>
<line x1="406" y1="485.5" x2="406" y2="488.1" stroke="#262626" stroke-width="1.2"/>
<line x1="420.4" y1="485.5" x2="420.4" y2="488.1" stroke="#262626" stroke-width="1.2"/>
<line x1="435.2" y1="485.5" x2="435.2" y2="488.1" stroke="#262626" stroke-width="1.2"/>
<text x="406" y="498.1" font-size="7.8" text-anchor="middle" font-weight="normal" fill="#141414" stroke="#141414" stroke-width="0.16">0</text>
<text x="420.4" y="498.1" font-size="7.8" text-anchor="middle" font-weight="normal" fill="#141414" stroke="#141414" stroke-width="0.16">5</text>
<text x="435.2" y="498.1" font-size="7.8" text-anchor="middle" font-weight="normal" fill="#141414" stroke="#141414" stroke-width="0.16">17</text>
<line x1="406" y1="431.4" x2="406" y2="468.2" stroke="#7dbd5d" stroke-width="1"/>
<line x1="404" y1="431.4" x2="408" y2="431.4" stroke="#7dbd5d" stroke-width="1"/>
<line x1="404" y1="468.2" x2="408" y2="468.2" stroke="#7dbd5d" stroke-width="1"/>
<line x1="420.4" y1="476.8" x2="420.4" y2="484" stroke="#7dbd5d" stroke-width="1"/>
<line x1="418.2" y1="476.8" x2="422.6" y2="476.8" stroke="#7dbd5d" stroke-width="1"/>
<polyline points="406,449.5 420.4,480.6 435.2,485" fill="none" stroke="#78bb57" stroke-width="1.2" stroke-linejoin="round"/>
<polyline points="449.5,485.5 478.5,485.5" fill="none" stroke="#78bb57" stroke-width="1.4" stroke-linejoin="round"/>
<circle cx="406" cy="449.5" r="2.1" fill="#4fa331" stroke="none" stroke-width="0"/>
<circle cx="420.4" cy="480.6" r="2.1" fill="#4fa331" stroke="none" stroke-width="0"/>
<circle cx="435.2" cy="485" r="2.1" fill="#4fa331" stroke="none" stroke-width="0"/>
<circle cx="449.5" cy="485.5" r="2.1" fill="#4fa331" stroke="none" stroke-width="0"/>
<circle cx="464.3" cy="485.5" r="2.1" fill="#4fa331" stroke="none" stroke-width="0"/>
<circle cx="478.5" cy="485.5" r="2.1" fill="#4fa331" stroke="none" stroke-width="0"/>
<line x1="439.6" y1="489.6" x2="442.8" y2="481.4" stroke="#78bb57" stroke-width="1.1"/>
<line x1="444" y1="489.6" x2="447.2" y2="481.4" stroke="#78bb57" stroke-width="1.1"/>
<text x="442.85" y="511.2" font-size="9.4" text-anchor="middle" font-weight="normal" fill="#141414" stroke="#141414" stroke-width="0.4" textLength="50.1" lengthAdjust="spacingAndGlyphs">Weeks post-HSCT</text>
<g transform="translate(364.6,453.2) rotate(-90)">
<text x="0" y="0" font-size="9.3" text-anchor="middle" font-weight="normal" fill="#141414" stroke="#141414" stroke-width="0.32" textLength="48" lengthAdjust="spacingAndGlyphs">Anti-FIX inhibitor</text>
</g>
<g transform="translate(375.9,453.65) rotate(-90)">
<text x="0" y="0" font-size="9.3" text-anchor="middle" font-weight="normal" fill="#141414" stroke="#141414" stroke-width="0.32" textLength="37.7" lengthAdjust="spacingAndGlyphs">titer (BU/ml)</text>
</g>
<text x="427.05" y="461.1" font-size="7.6" text-anchor="middle" font-weight="normal" fill="#141414" stroke="#141414" stroke-width="0.16" textLength="16.3" lengthAdjust="spacingAndGlyphs">n = 4</text>
<text x="461.95" y="450.6" font-size="7.6" text-anchor="middle" font-weight="normal" fill="#141414" stroke="#141414" stroke-width="0.16" textLength="45.9" lengthAdjust="spacingAndGlyphs">rhF9 100 U/kg</text>
<text x="462.15" y="458.6" font-size="7.6" text-anchor="middle" font-weight="normal" fill="#141414" stroke="#141414" stroke-width="0.16" textLength="28.5" lengthAdjust="spacingAndGlyphs">weekly IV</text>
<line x1="453.1" y1="464.3" x2="453.1" y2="476.7" stroke="#111" stroke-width="0.95"/>
<path d="M450.6,475.1 L455.6,475.1 L453.1,480 Z" fill="#000"/>
<line x1="456.3" y1="464.3" x2="456.3" y2="476.7" stroke="#111" stroke-width="0.95"/>
<path d="M453.8,475.1 L458.8,475.1 L456.3,480 Z" fill="#000"/>
<line x1="466.5" y1="464.3" x2="466.5" y2="476.7" stroke="#111" stroke-width="0.95"/>
<path d="M464,475.1 L469,475.1 L466.5,480 Z" fill="#000"/>
<line x1="469.6" y1="464.3" x2="469.6" y2="476.7" stroke="#111" stroke-width="0.95"/>
<path d="M467.1,475.1 L472.1,475.1 L469.6,480 Z" fill="#000"/>
</svg>
</body></html>
